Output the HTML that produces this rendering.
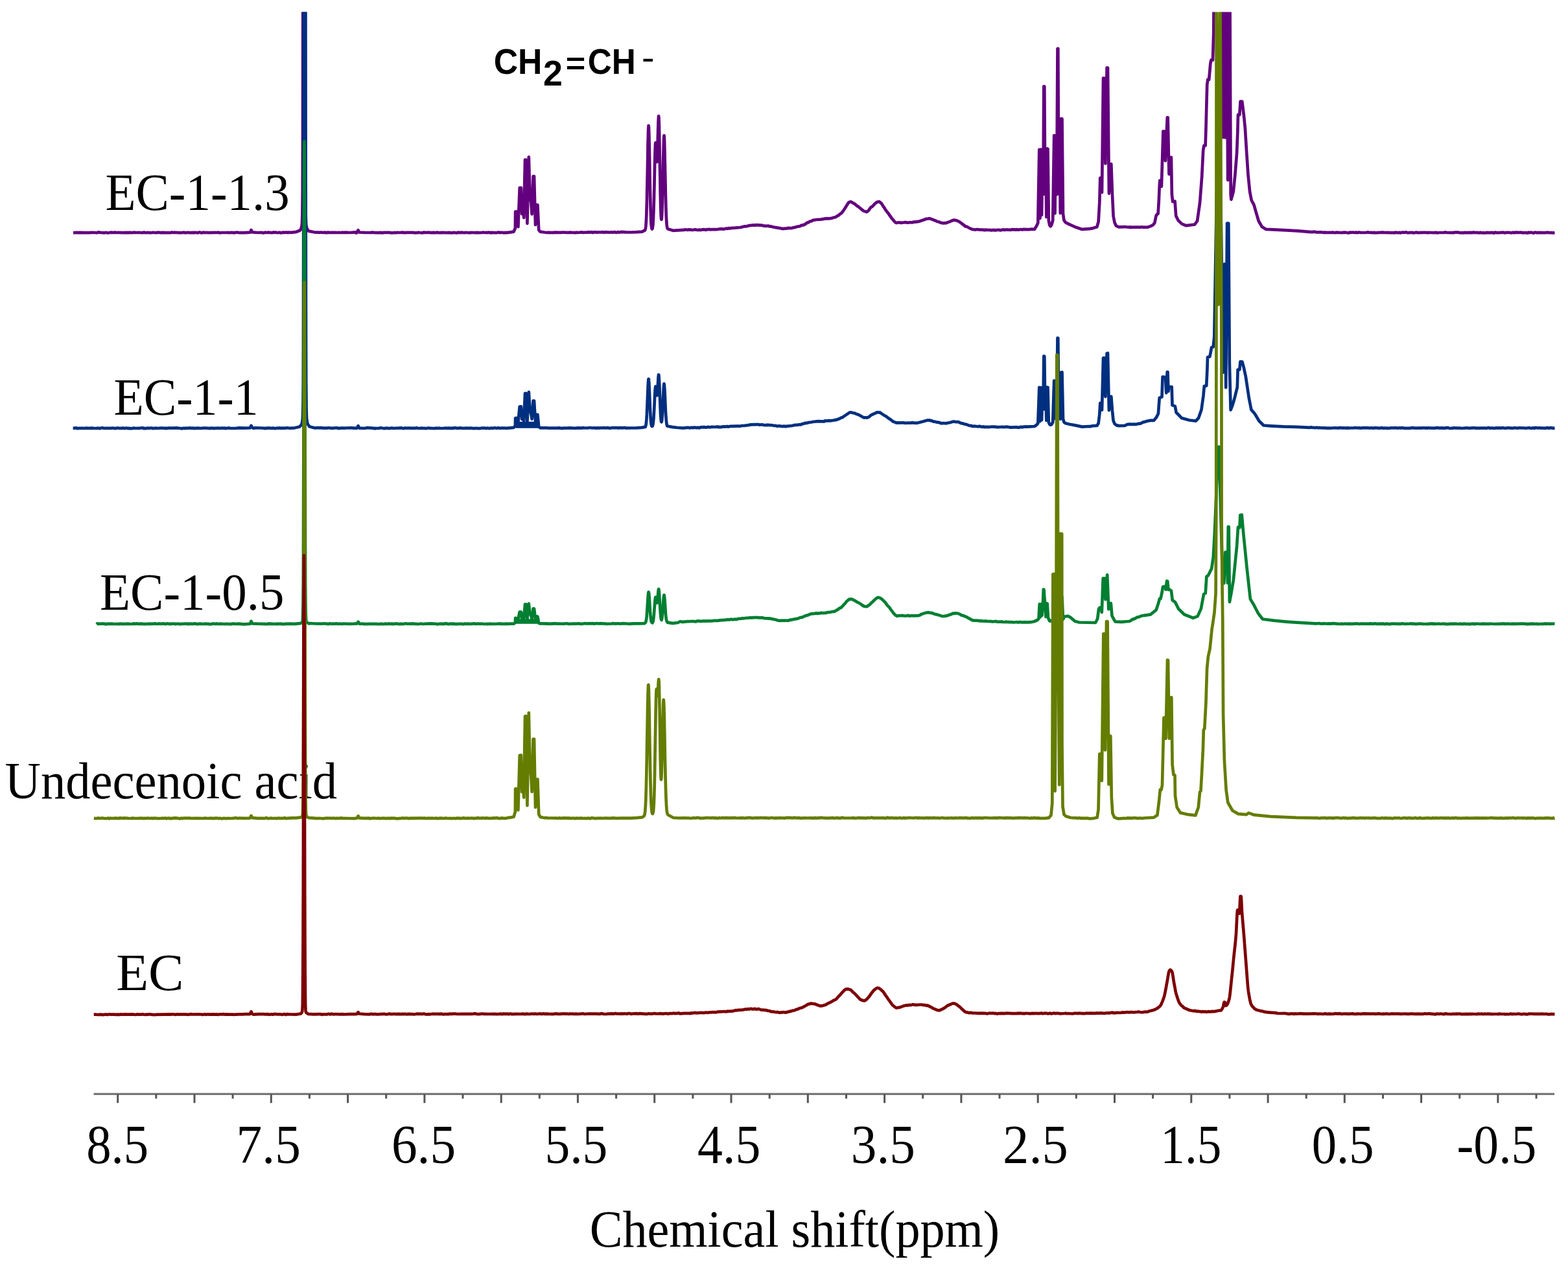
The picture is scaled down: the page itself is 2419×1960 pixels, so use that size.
<!DOCTYPE html><html><head><meta charset="utf-8"><style>html,body{margin:0;padding:0;background:#fff;overflow:hidden}svg{display:block}</style></head><body><svg xmlns="http://www.w3.org/2000/svg" width="2419" height="1960" viewBox="0 0 2419 1960">
<defs><clipPath id="c"><rect x="100" y="18.4" width="2310" height="1660"/></clipPath></defs>
<rect width="100%" height="100%" fill="#fff"/>
<line x1="144.5" y1="1688.4" x2="2398" y2="1688.4" stroke="#777" stroke-width="3.4"/>
<path d="M181.7 1688.4V1702.3 M240.8 1688.4V1695.5 M300.0 1688.4V1702.3 M359.1 1688.4V1695.5 M418.3 1688.4V1702.3 M477.4 1688.4V1695.5 M536.6 1688.4V1702.3 M595.7 1688.4V1695.5 M654.9 1688.4V1702.3 M714.0 1688.4V1695.5 M773.2 1688.4V1702.3 M832.3 1688.4V1695.5 M891.4 1688.4V1702.3 M950.6 1688.4V1695.5 M1009.7 1688.4V1702.3 M1068.9 1688.4V1695.5 M1128.0 1688.4V1702.3 M1187.2 1688.4V1695.5 M1246.3 1688.4V1702.3 M1305.5 1688.4V1695.5 M1364.6 1688.4V1702.3 M1423.7 1688.4V1695.5 M1482.9 1688.4V1702.3 M1542.0 1688.4V1695.5 M1601.2 1688.4V1702.3 M1660.3 1688.4V1695.5 M1719.5 1688.4V1702.3 M1778.6 1688.4V1695.5 M1837.8 1688.4V1702.3 M1896.9 1688.4V1695.5 M1956.1 1688.4V1702.3 M2015.2 1688.4V1695.5 M2074.3 1688.4V1702.3 M2133.5 1688.4V1695.5 M2192.6 1688.4V1702.3 M2251.8 1688.4V1695.5 M2310.9 1688.4V1702.3 M2370.1 1688.4V1695.5" stroke="#555" stroke-width="3" fill="none"/>
<text x="0" y="1795.5" font-family="Liberation Serif" font-size="84" transform="translate(133.16 0) scale(0.9141 1)">8.5</text>
<text x="0" y="1795.5" font-family="Liberation Serif" font-size="84" transform="translate(364.62 0) scale(0.9458 1)">7.5</text>
<text x="0" y="1795.5" font-family="Liberation Serif" font-size="84" transform="translate(603.92 0) scale(0.9449 1)">6.5</text>
<text x="0" y="1795.5" font-family="Liberation Serif" font-size="84" transform="translate(840.38 0) scale(0.9247 1)">5.5</text>
<text x="0" y="1795.5" font-family="Liberation Serif" font-size="84" transform="translate(1076.05 0) scale(0.9260 1)">4.5</text>
<text x="0" y="1795.5" font-family="Liberation Serif" font-size="84" transform="translate(1312.82 0) scale(0.9439 1)">3.5</text>
<text x="0" y="1795.5" font-family="Liberation Serif" font-size="84" transform="translate(1547.06 0) scale(0.9602 1)">2.5</text>
<text x="0" y="1795.5" font-family="Liberation Serif" font-size="84" transform="translate(1790.34 0) scale(0.8947 1)">1.5</text>
<text x="0" y="1795.5" font-family="Liberation Serif" font-size="84" transform="translate(2023.76 0) scale(0.9121 1)">0.5</text>
<text x="0" y="1795.5" font-family="Liberation Serif" font-size="84" transform="translate(2247.53 0) scale(0.9236 1)">-0.5</text>
<text x="0" y="1924" font-family="Liberation Serif" font-size="80" transform="translate(909.64 0) scale(0.9523 1)">Chemical shift(ppm)</text>
<text x="0" y="323.9" font-family="Liberation Serif" font-size="80" transform="translate(162.58 0) scale(0.9614 1)">EC-1-1.3</text>
<text x="0" y="640.2" font-family="Liberation Serif" font-size="80" transform="translate(175.40 0) scale(0.9476 1)">EC-1-1</text>
<text x="0" y="941.0" font-family="Liberation Serif" font-size="80" transform="translate(153.97 0) scale(0.9628 1)">EC-1-0.5</text>
<text x="0" y="1231.6" font-family="Liberation Serif" font-size="80" transform="translate(7.58 0) scale(0.9577 1)">Undecenoic acid</text>
<text x="0" y="1528.3" font-family="Liberation Serif" font-size="80" transform="translate(179.16 0) scale(1.0208 1)">EC</text>
<text x="0" y="0" font-family="Liberation Sans" font-weight="bold" font-size="56" transform="translate(761.65 113.60) scale(0.9240 1.000)">CH</text>
<text x="0" y="0" font-family="Liberation Sans" font-weight="bold" font-size="55" transform="translate(838.05 132.40) scale(0.9770 1.000)">2</text>
<text x="0" y="0" font-family="Liberation Sans" font-weight="bold" font-size="56" transform="translate(872.74 113.60) scale(0.9320 0.820)">=</text>
<text x="0" y="0" font-family="Liberation Sans" font-weight="bold" font-size="56" transform="translate(906.70 113.60) scale(0.9150 1.000)">CH</text>
<text x="0" y="0" font-family="Liberation Sans" font-weight="bold" font-size="56" transform="translate(990.20 101.90) scale(1.0200 0.620)">-</text>
<g clip-path="url(#c)" fill="none" stroke-width="4.7" stroke-linejoin="round" stroke-linecap="butt">
<path stroke="#63007e" d="M113.0 359.1L116.0 359.1 118.0 358.7 119.0 359.1 123.0 358.9 131.0 359.1 136.0 359.0 137.0 359.1 142.0 358.8 147.0 359.0 149.0 359.3 150.0 359.1 151.0 358.6 152.0 358.4 155.0 358.9 159.0 359.1 161.0 359.5 162.0 359.0 163.0 358.8 166.0 359.5 172.0 358.6 174.0 359.0 177.0 358.7 180.0 359.0 182.0 358.8 191.0 359.2 195.0 358.9 196.0 359.1 198.0 358.9 199.0 359.1 201.0 358.7 203.0 359.2 206.0 358.7 211.0 359.0 214.0 358.8 216.0 359.0 220.0 359.2 222.0 358.6 225.0 359.3 228.0 358.8 230.0 359.2 233.0 359.2 236.0 358.7 238.0 359.0 241.0 359.2 244.0 358.6 246.0 358.8 248.0 359.2 251.0 358.9 257.0 359.2 262.0 359.0 263.0 359.2 264.0 359.0 265.0 358.4 267.0 359.0 270.0 358.7 271.0 359.0 273.0 358.8 275.0 359.1 280.0 359.2 284.0 358.6 286.0 359.4 289.0 358.8 294.0 359.2 299.0 358.9 300.0 359.1 302.0 358.8 305.0 359.4 307.0 358.6 308.0 358.4 311.0 359.5 312.0 359.3 313.0 358.7 315.0 358.8 316.0 359.1 318.0 358.8 323.0 359.1 332.0 358.8 334.0 359.0 337.0 358.7 338.0 359.1 339.0 359.3 342.0 359.0 350.0 359.0 351.0 358.8 353.0 359.2 358.0 358.8 361.0 359.4 362.0 359.0 363.0 358.8 364.0 359.0 366.0 358.5 369.0 359.2 377.2 359.2 385.5 358.7 386.2 358.1 386.8 356.9 387.2 355.3 387.5 355.0 387.8 355.3 388.5 357.5 389.0 358.4 397.2 359.0 404.2 358.8 406.0 359.6 409.0 358.7 412.0 359.0 414.0 358.6 416.0 358.9 417.0 358.8 419.0 359.2 420.0 359.2 422.0 358.3 423.0 358.8 424.0 358.8 425.0 358.5 427.0 359.1 430.0 359.0 431.0 358.7 432.0 358.9 433.0 359.4 435.0 359.2 436.0 358.7 438.0 358.9 440.0 358.7 441.0 358.8 442.0 358.6 443.0 358.7 444.0 359.2 446.0 358.5 449.0 358.8 457.2 357.8 462.5 355.8 463.8 354.2 464.5 352.5 465.0 350.8 465.2 349.8 465.5 348.5 465.8 346.7 466.0 343.8 466.2 338.0 466.5 324.7 466.8 294.1 467.0 226.8 467.2 91.9 467.5 -150.5 467.8 -535.9 468.0 -1071.5 468.2 -1710.9 468.5 -2344.2 468.8 -2819.9 469.0 -2998.0 469.2 -2819.9 469.5 -2344.2 469.8 -1710.8 470.0 -1071.5 470.2 -535.9 470.5 -150.6 470.8 91.7 471.0 226.6 471.2 293.8 471.5 324.4 471.8 337.7 472.0 343.5 472.2 346.5 472.5 348.4 472.8 349.7 473.2 351.6 474.0 353.5 476.2 356.6 484.5 358.3 489.0 358.7 491.0 358.5 492.0 358.9 495.0 358.5 497.0 358.8 500.0 358.9 502.0 358.6 503.0 359.1 504.0 359.1 506.0 358.6 507.0 358.7 508.0 359.0 510.0 358.9 518.0 358.8 519.0 359.0 523.0 358.8 526.0 359.0 529.0 358.7 530.0 359.0 531.0 359.0 532.0 358.6 540.2 359.0 548.2 358.3 549.8 359.6 551.0 358.5 551.8 356.9 552.2 355.6 552.5 355.3 552.8 355.6 553.5 357.7 554.0 358.5 562.2 358.9 571.0 359.0 574.0 358.7 576.0 358.9 577.0 358.8 579.0 359.2 585.0 359.1 587.0 358.9 590.0 359.4 592.0 358.9 601.0 358.9 603.0 359.3 608.0 359.1 609.0 358.9 611.0 359.2 613.0 358.8 617.0 359.0 619.0 358.7 620.0 358.9 622.0 358.7 623.0 359.1 624.0 359.2 628.0 358.8 637.0 358.9 641.0 359.3 643.0 359.0 644.0 359.1 646.0 358.7 647.0 359.0 652.0 359.4 654.0 358.5 655.0 358.9 656.0 358.9 657.0 358.7 659.0 359.0 660.0 358.7 665.0 359.1 669.0 358.8 672.0 359.1 674.0 358.7 675.0 358.7 676.0 359.1 680.0 359.1 681.0 358.9 683.0 359.1 684.0 358.8 686.0 359.1 688.0 359.0 690.0 359.2 692.0 358.9 697.0 359.3 699.0 359.1 700.0 358.8 705.0 359.5 706.0 358.9 707.0 358.6 710.0 359.2 711.0 358.8 713.0 358.7 716.0 359.2 718.0 358.9 721.0 359.0 723.0 359.3 724.0 359.0 726.0 359.2 727.0 358.9 731.0 359.0 733.0 359.2 735.0 358.9 739.0 359.1 744.0 358.8 745.0 358.6 747.0 359.0 750.0 358.8 751.0 359.1 753.0 358.7 756.0 358.9 758.0 359.4 759.0 358.8 760.0 358.8 761.0 359.1 766.0 359.2 769.0 358.4 770.0 358.9 771.0 359.1 772.0 358.8 774.0 358.9 775.0 358.8 777.0 359.3 780.0 358.9 782.0 359.1 785.0 358.6 786.0 358.6 792.5 357.6 794.9 352.2 795.1 326.7 797.5 326.6 799.4 350.1 801.7 289.8 803.9 289.9 805.2 330.2 806.9 318.4 808.2 335.9 810.0 246.5 811.5 246.6 813.4 344.8 815.8 242.4 817.4 299.9 819.3 312.2 820.6 330.3 822.5 272.1 824.0 272.0 826.0 347.0 828.2 316.1 829.4 316.3 831.2 355.0 833.5 357.7 840.0 358.5 840.0 358.5 843.0 358.8 844.0 359.0 846.0 358.7 849.0 359.1 851.0 358.8 852.0 359.1 856.0 358.7 865.0 358.9 867.0 358.6 868.0 358.8 870.0 358.5 873.0 358.9 878.0 358.9 880.0 358.6 884.0 359.0 886.0 358.9 887.0 359.2 888.0 359.1 889.0 358.7 892.0 359.0 897.0 358.4 900.0 358.9 905.0 358.5 907.0 358.6 908.0 358.1 910.0 358.6 913.0 358.2 914.0 358.8 915.0 358.9 916.0 358.3 919.0 358.2 921.0 358.8 923.0 358.4 927.0 358.5 929.0 358.1 931.0 358.4 932.0 358.8 934.0 358.1 939.0 358.6 942.0 358.5 943.0 358.2 945.0 358.6 947.0 358.4 948.0 358.0 950.0 358.7 951.0 358.9 953.0 358.1 956.0 358.6 958.0 357.9 966.1 358.4 974.4 358.5 982.5 358.2 990.5 357.6 995.1 355.4 995.9 352.7 996.3 349.2 996.6 345.6 996.9 341.5 997.1 336.3 997.4 329.7 997.5 323.4 997.8 316.2 998.0 305.9 998.2 294.1 998.6 275.7 999.4 233.4 999.5 223.0 999.7 215.9 999.9 209.5 1000.0 204.1 1000.1 201.1 1000.2 198.5 1000.3 196.5 1000.4 195.7 1000.5 194.6 1000.5 194.0 1000.6 193.9 1000.7 194.2 1000.8 195.1 1000.9 195.7 1001.0 197.5 1001.0 199.8 1001.1 201.1 1001.2 205.8 1001.4 209.5 1001.5 215.9 1001.6 220.5 1001.9 233.4 1002.6 275.9 1002.9 289.3 1003.1 301.6 1003.4 312.6 1003.5 320.2 1003.8 326.9 1004.0 333.9 1004.2 339.6 1004.5 344.7 1004.9 348.4 1005.1 350.5 1005.6 352.9 1006.1 353.5 1006.6 352.4 1007.1 349.2 1007.4 346.7 1007.6 343.2 1007.9 338.8 1008.1 333.2 1008.4 326.5 1008.6 318.4 1008.9 309.2 1009.1 298.9 1009.4 287.8 1010.1 253.0 1010.4 242.6 1010.5 235.3 1010.7 230.6 1010.9 226.7 1011.0 223.7 1011.1 222.2 1011.2 220.6 1011.4 220.1 1011.5 220.2 1011.6 220.7 1011.8 222.1 1011.9 223.4 1012.1 227.8 1012.8 243.1 1013.0 246.5 1013.1 247.8 1013.2 249.3 1013.4 249.8 1013.5 249.9 1013.6 249.5 1013.8 248.1 1013.9 246.7 1014.0 243.8 1014.1 241.4 1014.3 235.5 1014.5 226.6 1015.2 198.2 1015.4 194.5 1015.5 189.5 1015.6 186.6 1015.8 183.1 1015.9 181.3 1016.0 180.0 1016.0 179.2 1016.1 179.1 1016.2 179.1 1016.3 179.8 1016.4 180.4 1016.5 181.9 1016.5 184.0 1016.6 185.2 1016.7 188.2 1016.8 191.6 1017.0 197.6 1017.1 204.5 1017.3 215.0 1017.6 232.4 1018.1 263.0 1018.4 277.7 1018.6 291.2 1018.8 301.1 1019.0 309.9 1019.1 313.9 1019.3 320.9 1019.5 326.8 1019.6 329.3 1019.8 333.4 1020.0 336.4 1020.1 337.5 1020.3 338.7 1020.5 338.8 1020.6 338.5 1020.8 337.0 1021.0 334.4 1021.1 332.7 1021.3 328.6 1021.5 323.4 1021.6 320.3 1021.8 313.6 1022.0 303.7 1022.4 290.1 1022.6 277.8 1023.2 244.4 1023.5 235.0 1023.6 228.7 1023.8 223.0 1023.9 219.6 1024.0 215.4 1024.1 213.1 1024.2 211.3 1024.3 210.1 1024.3 209.6 1024.5 209.1 1024.5 209.1 1024.6 209.3 1024.7 210.1 1024.8 211.4 1024.8 212.3 1025.0 215.5 1025.1 218.3 1025.2 223.1 1025.3 226.8 1025.5 235.2 1025.8 249.5 1026.6 287.7 1026.8 299.3 1027.1 309.8 1027.3 319.1 1027.6 326.9 1027.8 333.4 1028.1 338.6 1028.3 342.8 1028.6 346.0 1028.8 348.4 1029.3 351.4 1030.1 353.3 1038.2 355.8 1046.2 355.4 1054.5 354.9 1055.5 355.0 1057.0 354.2 1060.2 354.8 1063.0 354.4 1067.0 354.7 1068.0 355.0 1070.0 354.7 1071.0 354.4 1073.0 354.4 1076.0 355.0 1079.0 354.6 1081.0 355.0 1083.0 354.4 1086.0 354.1 1088.0 354.5 1089.0 354.9 1090.0 354.3 1091.0 354.0 1092.0 354.2 1094.0 353.9 1097.0 354.3 1099.0 354.0 1104.0 354.1 1105.0 354.2 1111.0 353.2 1113.0 353.4 1115.0 353.3 1116.0 353.7 1118.0 353.3 1120.0 352.7 1121.0 352.6 1122.0 352.9 1123.0 352.8 1124.0 352.1 1127.0 352.4 1129.0 351.8 1134.0 351.7 1142.0 351.0 1148.0 349.4 1151.0 349.4 1156.0 348.1 1163.0 347.3 1166.0 347.7 1167.0 347.2 1168.0 347.2 1169.0 347.5 1170.0 347.3 1171.0 347.3 1172.0 347.7 1175.0 347.5 1178.0 348.6 1179.0 348.7 1180.0 348.6 1182.0 348.9 1185.0 348.5 1187.0 349.3 1190.0 349.4 1191.0 350.0 1195.0 350.7 1196.0 351.1 1198.0 351.2 1199.0 351.6 1201.0 351.7 1203.0 352.3 1204.0 352.1 1206.0 352.9 1208.0 352.9 1209.0 353.1 1211.0 352.5 1214.0 352.6 1215.0 352.0 1216.0 351.8 1219.0 352.2 1222.0 351.8 1224.0 351.2 1225.0 351.2 1230.0 349.7 1234.0 349.1 1235.0 348.7 1236.0 347.9 1240.0 347.1 1241.0 346.7 1246.0 343.3 1247.0 343.4 1248.0 342.8 1249.0 341.8 1251.0 341.5 1255.0 339.7 1257.0 339.5 1259.0 339.0 1267.0 338.6 1268.0 338.2 1270.0 338.2 1272.0 337.6 1276.0 337.1 1278.0 337.4 1281.0 337.2 1289.0 335.1 1291.0 333.9 1292.0 333.1 1294.0 332.1 1295.0 331.0 1297.0 329.7 1299.0 327.9 1300.0 326.7 1304.0 320.7 1308.0 314.3 1309.0 313.0 1310.0 312.0 1312.0 311.4 1313.0 311.4 1319.0 315.1 1323.0 318.3 1324.0 318.7 1332.0 325.4 1336.0 326.9 1337.0 327.1 1340.0 324.9 1342.0 321.9 1343.0 320.6 1344.0 319.7 1345.0 319.2 1347.0 317.4 1349.0 315.1 1350.0 314.1 1353.0 311.8 1356.0 311.2 1357.0 311.7 1359.0 313.1 1360.0 314.2 1363.0 319.0 1364.0 320.2 1366.0 323.6 1369.0 327.6 1371.0 330.0 1372.0 331.7 1374.0 334.3 1375.0 336.0 1376.0 337.3 1377.0 338.2 1379.0 340.8 1381.0 342.9 1382.0 343.6 1383.0 344.0 1384.0 343.9 1385.0 343.5 1388.0 343.3 1390.0 343.9 1393.0 343.5 1395.0 343.4 1396.0 343.0 1398.0 343.2 1399.0 343.6 1403.0 343.3 1404.0 343.1 1407.0 343.5 1408.0 343.2 1409.0 342.7 1411.0 342.7 1417.0 341.9 1426.0 339.0 1429.0 337.8 1432.0 337.5 1433.0 337.2 1435.0 337.4 1441.0 339.8 1443.0 340.4 1446.0 342.0 1449.0 342.5 1451.0 343.6 1455.0 344.5 1457.0 344.1 1458.0 344.3 1459.0 344.3 1466.0 341.9 1468.0 340.6 1470.0 340.2 1471.0 339.6 1472.0 339.5 1476.0 340.4 1479.0 341.6 1483.0 344.4 1486.0 346.9 1487.0 347.3 1488.0 348.2 1489.0 349.4 1491.0 349.5 1497.0 352.8 1499.0 353.4 1500.0 354.0 1502.0 354.1 1504.0 354.5 1505.0 354.6 1507.0 354.0 1510.0 354.3 1515.0 354.7 1516.0 354.6 1519.0 355.1 1521.0 354.6 1524.0 355.0 1527.0 354.9 1529.0 355.4 1534.0 354.9 1535.0 355.4 1536.0 355.4 1539.0 354.8 1542.0 354.9 1543.0 355.3 1544.0 355.2 1545.0 354.9 1547.0 354.7 1548.0 354.3 1550.0 354.9 1552.0 354.5 1553.0 354.4 1555.0 354.7 1556.0 354.5 1559.0 354.9 1561.0 354.1 1563.0 354.4 1564.0 354.2 1567.0 354.6 1569.0 354.1 1570.0 354.5 1571.0 354.7 1574.0 354.0 1577.0 354.4 1579.0 353.9 1580.0 354.1 1582.0 353.9 1583.0 354.2 1587.0 354.0 1588.0 354.2 1590.0 353.7 1596.0 353.9 1599.0 348.9 1601.3 343.9 1603.3 230.8 1604.5 336.9 1605.8 230.6 1607.1 331.8 1608.4 230.5 1609.4 299.7 1610.3 133.3 1611.3 133.4 1612.3 300.1 1613.3 230.1 1614.3 335.0 1615.4 229.4 1616.5 229.9 1617.8 340.1 1619.2 347.4 1620.6 349.3 1622.3 347.1 1624.2 340.2 1626.2 209.0 1627.5 329.2 1628.8 209.0 1630.2 300.2 1631.5 75.3 1632.3 75.0 1633.3 299.5 1634.5 183.2 1635.8 329.0 1637.1 183.4 1638.5 183.4 1640.0 330.2 1641.5 340.1 1644.0 343.4 1650.0 346.3 1660.0 350.8 1669.4 353.9 1680.0 353.2 1680.0 353.2 1681.0 353.2 1683.0 352.6 1684.0 352.7 1692.3 350.3 1694.6 342.1 1696.3 312.4 1697.3 274.5 1699.3 274.3 1700.0 297.0 1702.0 120.5 1703.5 120.5 1705.4 252.5 1707.6 104.6 1709.0 104.7 1710.9 298.6 1713.4 253.1 1714.3 253.2 1716.0 300.0 1717.6 333.6 1719.5 343.4 1722.0 348.7 1726.0 350.4 1735.0 350.2 1735.0 350.2 1737.0 350.2 1739.0 350.5 1742.0 350.6 1743.0 350.4 1744.0 350.6 1745.0 351.1 1747.0 350.5 1756.0 350.7 1760.0 350.6 1762.0 350.3 1763.0 350.5 1764.0 350.9 1766.0 350.5 1770.0 350.8 1775.0 349.1 1778.5 347.4 1781.3 344.0 1783.5 333.1 1784.8 331.1 1786.6 329.6 1787.8 309.8 1788.7 287.9 1789.3 278.7 1790.9 278.5 1791.9 287.8 1794.4 202.7 1796.5 202.8 1797.9 248.1 1800.8 181.3 1801.7 181.3 1803.5 268.7 1804.9 242.9 1806.9 242.9 1807.9 300.0 1809.2 311.2 1812.6 310.6 1814.2 333.1 1817.7 340.3 1823.4 345.6 1830.0 348.2 1843.1 346.5 1847.1 340.9 1851.1 312.6 1854.2 272.1 1856.2 231.9 1857.4 224.6 1859.6 224.6 1860.4 200.0 1862.2 131.0 1863.3 122.5 1865.2 122.8 1867.3 98.6 1868.4 92.6 1871.0 92.6 1872.3 49.9 1873.0 -60.1 1879.5 -599.7 1884.5 -60.2 1887.2 212.1 1888.6 -59.6 1890.4 212.3 1892.5 -60.0 1894.2 277.8 1895.6 277.5 1897.2 -60.2 1898.7 300.1 1899.4 307.8 1902.8 295.6 1905.4 269.7 1908.0 237.3 1909.3 204.8 1910.0 177.0 1912.3 177.1 1913.6 156.6 1916.2 156.5 1919.0 178.9 1920.9 198.1 1922.9 230.8 1925.5 269.7 1928.1 295.8 1930.6 308.8 1934.5 316.1 1937.8 327.9 1941.7 341.0 1946.9 350.1 1953.3 353.9 1965.0 354.3 1985.0 355.4 2002.6 356.4 2020.0 357.8 2024.0 358.2 2028.0 357.7 2031.0 358.4 2035.0 358.3 2036.0 358.5 2038.0 358.2 2041.0 358.8 2044.0 358.6 2046.0 358.8 2051.0 358.8 2054.0 358.8 2056.0 358.6 2060.0 359.2 2062.0 358.6 2064.0 358.8 2065.0 358.8 2067.0 359.0 2070.0 359.2 2074.0 358.7 2078.0 359.0 2079.0 359.3 2081.0 359.3 2082.0 358.8 2083.0 358.6 2084.0 358.9 2087.0 358.5 2089.0 359.0 2092.0 358.6 2094.0 359.2 2096.0 358.6 2097.0 358.6 2099.0 359.0 2108.0 358.8 2110.0 358.4 2113.0 359.0 2115.0 358.8 2118.0 359.1 2120.0 358.9 2123.0 359.3 2124.0 359.1 2133.0 358.7 2137.0 359.0 2139.0 358.9 2140.0 359.1 2142.0 358.8 2143.0 359.1 2150.0 359.0 2151.0 359.4 2152.0 359.2 2153.0 358.5 2156.0 359.2 2159.0 358.9 2161.0 359.4 2163.0 358.6 2164.0 358.6 2166.0 359.0 2169.0 358.3 2171.0 359.1 2174.0 359.1 2176.0 358.9 2177.0 359.0 2178.0 358.8 2179.0 358.9 2180.0 359.3 2183.0 359.1 2185.0 358.5 2187.0 359.2 2195.0 358.9 2201.0 358.9 2202.0 359.2 2203.0 359.2 2204.0 358.8 2208.0 359.0 2213.0 359.2 2215.0 358.7 2216.0 358.9 2217.0 359.5 2220.0 359.0 2228.0 358.9 2230.0 358.4 2232.0 359.0 2240.0 359.1 2241.0 358.9 2242.0 359.2 2243.0 359.1 2244.0 358.6 2247.0 358.7 2249.0 358.4 2252.0 359.2 2254.0 359.3 2255.0 359.1 2257.0 359.4 2260.0 358.9 2265.0 359.2 2266.0 358.8 2267.0 358.8 2268.0 359.2 2270.0 358.9 2271.0 359.1 2273.0 358.6 2278.0 359.1 2279.0 358.8 2280.0 359.0 2281.0 359.4 2284.0 358.9 2286.0 359.3 2288.0 359.1 2291.0 359.5 2294.0 358.9 2298.0 359.1 2302.0 358.9 2305.0 359.6 2306.0 358.8 2307.0 358.5 2308.0 359.1 2310.0 359.0 2313.0 359.2 2319.0 358.6 2321.0 359.3 2324.0 358.9 2328.0 358.8 2331.0 359.3 2332.0 359.3 2334.0 358.7 2335.0 359.2 2336.0 359.1 2338.0 358.6 2344.0 358.9 2347.0 358.7 2350.0 359.4 2351.0 359.0 2355.0 359.2 2356.0 359.6 2358.0 358.6 2359.0 359.1 2360.0 359.0 2361.0 358.7 2364.0 359.0 2366.0 359.7 2367.0 359.1 2369.0 358.5 2370.0 359.0 2371.0 359.2 2372.0 358.9 2381.0 359.1 2384.0 359.1 2388.0 358.7 2390.0 359.1 2395.0 359.2 2396.0 359.4 2398.5 359.1"/>
<path fill="#012f7f" stroke="none" d="M795.8 660.8 L795.8 650.8 L831.0 650.8 L831.0 660.8Z"/>
<path stroke="#012f7f" d="M112.6 660.8L115.6 660.7 117.6 660.3 118.6 661.0 119.6 661.2 122.6 660.8 127.6 660.8 128.6 661.0 133.6 660.6 135.6 660.9 138.6 660.9 142.6 660.6 144.6 661.0 149.6 660.9 150.6 660.6 153.6 661.2 154.6 661.1 155.6 660.5 158.6 660.4 160.6 661.0 162.6 660.9 170.6 660.8 171.6 661.0 173.6 660.5 177.6 661.1 178.6 661.1 179.6 660.7 182.6 660.6 184.6 661.0 186.6 660.8 187.6 661.1 189.6 660.4 190.6 660.9 192.6 661.1 193.6 660.7 194.6 660.5 197.6 661.1 199.6 660.9 201.6 661.3 202.6 661.3 206.6 660.6 208.6 661.0 213.6 660.8 215.6 660.8 219.6 660.2 221.6 661.1 222.6 660.9 224.6 661.2 227.6 660.6 229.6 660.9 232.6 660.5 234.6 660.7 235.6 661.2 241.6 660.7 243.6 661.0 247.6 660.7 250.6 660.6 253.6 661.0 254.6 660.7 255.6 660.8 256.6 661.2 258.6 660.7 267.6 660.6 272.6 660.4 277.6 661.0 279.6 661.1 280.6 661.4 283.6 660.7 285.6 661.2 286.6 660.7 287.6 660.7 288.6 661.0 290.6 660.6 291.6 660.8 293.6 660.4 294.6 660.8 295.6 660.9 297.6 660.6 298.6 660.7 299.6 661.1 304.6 660.6 310.6 661.0 312.6 660.6 317.6 660.5 323.6 661.1 325.6 660.6 327.6 660.8 328.6 660.7 329.6 661.1 330.6 661.2 331.6 660.8 333.6 660.9 336.6 660.6 338.6 660.8 341.6 660.8 342.6 660.5 343.6 660.6 344.6 661.0 345.6 660.7 346.6 660.7 347.6 661.1 349.6 660.8 350.6 661.0 351.6 660.8 352.6 660.4 354.6 660.8 363.6 661.0 368.6 660.4 376.8 660.7 385.0 660.4 386.0 660.2 386.6 659.2 387.2 657.2 387.5 656.9 387.8 657.2 388.6 659.5 391.0 660.9 394.2 660.3 402.5 660.5 407.6 660.9 408.6 661.1 411.6 660.7 413.6 660.8 414.6 660.4 415.6 660.5 416.6 660.8 418.6 660.9 421.6 660.6 424.6 661.2 427.6 660.5 429.6 661.0 430.6 660.4 431.6 660.5 432.6 660.8 434.6 660.6 435.6 660.9 437.6 660.5 438.6 660.8 440.6 660.7 442.6 660.2 446.6 660.8 454.8 660.3 461.8 658.8 463.0 657.5 464.6 656.4 465.6 653.8 466.0 652.2 466.2 651.0 466.6 648.7 466.8 647.4 467.0 644.2 467.2 637.7 467.5 623.2 467.6 613.0 467.8 589.8 468.0 516.4 468.2 369.4 468.5 105.2 468.6 -42.6 468.8 -314.8 469.0 -898.6 469.2 -1595.5 469.5 -2285.8 469.6 -2523.4 469.8 -2804.1 470.0 -2998.1 470.2 -2803.9 470.5 -2285.4 470.6 -2020.1 470.8 -1595.0 471.0 -898.1 471.2 -314.3 471.5 105.6 471.6 228.2 471.8 369.8 472.0 516.7 472.2 590.0 472.5 623.4 472.6 630.7 472.8 637.8 473.0 644.2 473.2 647.4 473.5 649.3 473.8 650.7 474.2 652.8 475.0 654.8 477.2 658.2 485.5 660.4 489.2 660.3 490.6 660.0 491.6 660.4 496.6 660.2 498.6 660.7 503.6 660.7 507.6 660.3 510.6 660.8 512.6 660.7 514.6 660.8 515.6 660.5 520.6 660.4 521.6 660.9 522.6 661.1 525.6 660.6 528.6 660.7 530.6 660.5 531.6 660.8 533.6 660.5 541.8 660.4 550.0 660.9 551.0 660.4 551.8 659.0 552.2 657.6 552.6 657.3 553.8 660.1 554.2 660.6 562.5 661.0 565.8 660.2 573.6 660.6 575.6 660.9 576.6 660.9 577.6 661.2 578.6 661.3 579.6 660.8 581.6 661.0 584.6 660.9 587.6 660.3 592.6 661.2 597.6 660.7 598.6 661.0 600.6 661.1 602.6 660.7 605.6 660.6 606.6 661.0 615.6 660.6 619.6 660.4 622.6 661.2 623.6 661.0 624.6 660.4 626.6 660.8 629.6 660.6 631.6 660.7 632.6 660.5 633.6 660.9 634.6 661.0 635.6 660.7 639.6 660.9 642.6 660.4 645.6 661.0 648.6 660.9 650.6 660.6 653.6 661.0 654.6 660.8 656.6 661.3 660.6 660.5 661.6 660.5 662.6 660.9 663.6 661.0 664.6 660.8 666.6 661.0 670.6 661.1 672.6 660.7 675.6 661.0 677.6 660.6 678.6 661.0 682.6 661.0 685.6 660.8 686.6 660.6 688.6 660.8 693.6 660.7 696.6 661.1 697.6 660.7 698.6 660.6 699.6 661.0 701.6 660.3 703.6 660.4 704.6 660.8 707.6 660.9 709.6 660.4 714.6 661.0 715.6 660.8 717.6 660.9 719.6 660.6 723.6 660.9 725.6 660.6 730.6 661.2 734.6 660.8 736.6 661.1 738.6 661.0 739.6 661.2 743.6 660.6 747.6 660.5 749.6 661.1 752.6 660.5 753.6 661.0 754.6 661.1 757.6 660.6 759.6 660.9 763.6 660.3 765.6 660.8 766.6 660.9 768.6 660.2 770.6 660.9 773.6 660.7 779.6 660.7 781.6 661.0 782.6 660.5 783.6 660.5 784.6 660.7 792.5 659.9 794.9 657.5 795.1 645.3 797.5 645.1 799.4 651.3 801.7 627.5 803.9 627.4 805.2 646.8 806.9 641.6 808.2 649.8 810.0 607.1 811.5 607.1 813.4 650.5 815.8 605.0 817.4 632.7 819.3 638.5 820.6 646.7 822.5 618.5 824.0 618.6 826.0 650.6 828.2 639.9 829.4 639.9 831.2 658.5 833.5 660.3 840.0 660.3 840.0 660.3 844.0 660.4 846.0 660.7 849.0 660.5 855.0 660.7 857.0 660.5 860.0 660.7 863.0 660.3 864.0 660.7 865.0 660.9 866.0 660.7 868.0 661.2 869.0 660.7 870.0 660.6 871.0 660.8 873.0 660.5 876.0 660.7 878.0 660.4 887.0 660.8 892.0 660.3 897.0 660.6 900.0 660.2 901.0 660.5 908.0 660.5 909.0 660.0 910.0 660.0 913.0 660.5 917.0 660.3 919.0 660.8 921.0 660.4 924.0 660.6 926.0 660.4 927.0 660.5 932.0 660.2 933.0 660.5 938.0 660.1 940.0 660.8 946.0 660.0 948.0 660.4 950.0 660.2 951.0 660.0 953.0 660.6 956.0 660.1 962.0 660.3 964.0 660.0 965.6 660.7 973.9 660.5 982.0 660.3 990.0 659.9 995.6 658.9 996.4 656.5 996.9 653.1 997.4 647.5 997.6 643.8 997.9 639.4 998.1 634.3 998.6 622.3 999.4 602.6 999.6 596.8 999.9 591.8 1000.1 587.9 1000.3 585.9 1000.5 584.9 1000.7 584.9 1000.9 585.6 1001.0 587.4 1001.3 591.0 1001.6 596.9 1002.1 609.2 1002.9 628.6 1003.1 634.3 1003.4 639.4 1003.6 643.8 1003.9 647.5 1004.1 650.4 1004.6 654.5 1005.1 656.8 1005.9 658.1 1006.6 657.6 1007.4 654.9 1007.9 651.4 1008.4 645.7 1008.9 637.8 1009.4 627.9 1010.1 611.8 1010.4 607.0 1010.6 602.8 1010.9 599.6 1011.1 597.4 1011.4 596.4 1011.6 596.6 1011.9 597.9 1012.9 607.5 1013.1 609.3 1013.4 610.3 1013.6 610.2 1013.9 608.9 1014.1 606.5 1014.4 603.1 1015.4 585.2 1015.6 581.7 1015.9 579.2 1016.0 578.3 1016.2 578.4 1016.4 578.9 1016.5 580.6 1016.8 584.0 1017.1 589.9 1017.4 595.9 1018.4 623.3 1018.6 629.6 1018.9 635.1 1019.1 639.9 1019.4 643.8 1019.6 646.9 1019.9 649.2 1020.1 650.7 1020.4 651.3 1020.6 651.2 1020.9 650.4 1021.1 648.7 1021.4 646.3 1021.6 643.1 1021.9 639.2 1022.1 634.5 1022.6 623.7 1023.4 606.3 1023.6 601.3 1023.9 597.1 1024.1 594.1 1024.3 592.5 1024.5 592.3 1024.8 593.3 1025.0 595.7 1025.3 600.2 1025.6 605.0 1026.8 633.2 1027.3 642.3 1027.6 645.9 1028.1 651.4 1028.6 654.9 1029.3 657.5 1037.5 659.1 1045.5 660.0 1053.8 660.6 1061.0 659.8 1064.0 660.4 1065.0 660.4 1066.0 659.9 1068.0 659.9 1069.0 660.3 1070.0 660.1 1071.0 659.5 1073.0 660.1 1077.0 659.8 1079.0 660.4 1080.0 659.8 1081.0 659.4 1087.0 659.1 1088.0 659.5 1089.0 659.7 1092.0 658.9 1095.0 659.3 1097.0 659.1 1098.0 658.8 1104.0 659.0 1106.0 658.4 1108.0 659.2 1109.0 658.9 1112.0 659.2 1113.0 659.1 1114.0 658.6 1116.0 658.3 1117.0 658.6 1122.0 658.1 1124.0 658.6 1127.0 657.8 1129.0 657.9 1130.0 657.7 1132.0 657.9 1135.0 657.5 1137.0 657.7 1138.0 657.5 1141.0 657.7 1145.0 657.0 1148.0 657.0 1156.0 655.9 1158.0 655.4 1167.0 655.2 1170.0 655.1 1172.0 655.7 1175.0 655.2 1177.0 655.5 1178.0 656.0 1180.0 656.1 1182.0 656.0 1183.0 656.2 1184.0 655.8 1185.0 655.7 1188.0 656.3 1189.0 656.0 1191.0 656.3 1194.0 657.0 1196.0 656.8 1199.0 657.7 1202.0 657.2 1204.0 657.6 1206.0 657.8 1207.0 658.1 1210.0 657.6 1212.0 658.3 1213.0 657.8 1222.0 657.0 1225.0 656.2 1231.0 655.6 1233.0 655.3 1235.0 655.4 1236.0 655.1 1237.0 654.3 1238.0 654.1 1239.0 654.2 1242.0 652.9 1244.0 653.1 1248.0 651.9 1252.0 651.5 1254.0 651.0 1260.0 650.3 1263.0 650.2 1266.0 650.4 1269.0 650.3 1271.0 650.6 1272.0 649.8 1273.0 649.4 1274.0 649.7 1279.0 649.1 1281.0 649.3 1287.0 648.5 1288.0 648.0 1289.0 647.9 1290.0 648.1 1294.0 646.5 1295.0 646.3 1298.0 644.5 1300.0 644.1 1301.0 643.1 1310.0 637.1 1311.0 636.5 1313.0 636.4 1316.0 637.2 1319.0 637.7 1321.0 638.9 1325.0 640.3 1332.0 644.3 1333.0 644.6 1335.0 644.3 1338.0 644.6 1341.0 643.1 1342.0 642.2 1343.0 641.2 1345.0 640.0 1348.0 638.8 1350.0 637.7 1351.0 637.4 1353.0 636.4 1354.0 636.3 1356.0 636.7 1357.0 636.4 1358.0 636.8 1359.0 637.6 1365.0 641.6 1367.0 642.4 1369.0 644.2 1372.0 646.4 1373.0 646.8 1377.0 649.9 1378.0 650.8 1380.0 651.3 1383.0 652.7 1384.0 652.3 1385.0 652.2 1386.0 652.6 1390.0 652.3 1391.0 652.5 1393.0 652.4 1397.0 652.9 1403.0 652.5 1405.0 652.8 1406.0 652.6 1407.0 652.1 1409.0 652.7 1415.0 652.8 1424.0 650.5 1431.0 648.5 1433.0 648.7 1434.0 648.5 1436.0 649.3 1437.0 649.2 1438.0 649.5 1440.0 650.6 1441.0 650.8 1442.0 650.6 1444.0 651.3 1448.0 651.8 1452.0 653.3 1455.0 653.0 1460.0 653.3 1463.0 652.5 1465.0 652.2 1471.0 650.5 1473.0 650.9 1476.0 651.2 1477.0 651.0 1479.0 651.4 1481.0 652.4 1484.0 653.4 1485.0 653.4 1487.0 654.2 1489.0 654.6 1492.0 655.4 1495.0 656.7 1497.0 657.0 1498.0 656.8 1500.0 657.8 1504.0 657.7 1508.0 658.3 1511.0 657.9 1513.0 658.4 1514.0 658.5 1516.0 659.0 1517.0 658.4 1518.0 658.6 1519.0 659.2 1522.0 658.8 1524.0 659.1 1526.0 658.9 1527.0 659.0 1529.0 658.7 1534.0 658.6 1535.0 658.9 1537.0 658.9 1540.0 659.3 1542.0 659.0 1545.0 659.0 1546.0 658.7 1548.0 659.2 1554.0 658.7 1559.0 659.6 1564.0 659.4 1566.0 659.5 1567.0 659.2 1572.0 659.9 1575.0 658.8 1576.0 659.2 1577.0 659.3 1578.0 658.8 1583.0 658.4 1585.0 658.8 1588.0 658.3 1590.0 658.3 1596.0 658.0 1599.0 655.8 1601.3 653.4 1603.3 597.9 1604.5 650.1 1605.8 598.2 1607.1 648.1 1608.4 598.2 1609.4 631.6 1610.3 549.5 1611.3 549.9 1612.3 631.8 1613.3 597.4 1614.3 649.0 1615.4 597.7 1616.5 597.9 1617.8 651.7 1619.2 654.9 1620.6 655.9 1622.3 655.0 1624.2 651.6 1626.2 587.5 1627.5 645.9 1628.8 587.3 1630.2 631.8 1631.5 521.5 1632.3 521.7 1633.3 631.9 1634.5 574.9 1635.8 646.7 1637.1 574.7 1638.5 574.4 1640.0 646.5 1641.5 651.5 1644.0 653.3 1650.0 654.7 1660.0 656.6 1669.4 658.6 1680.0 658.0 1680.0 658.0 1682.0 658.2 1684.0 657.5 1688.0 657.1 1692.3 657.0 1694.6 653.2 1696.3 639.3 1697.3 622.2 1699.3 622.3 1700.0 632.7 1702.0 552.6 1703.5 552.3 1705.4 612.2 1707.6 545.4 1709.0 544.9 1710.9 633.2 1713.4 612.2 1714.3 612.0 1716.0 633.9 1717.6 649.4 1719.5 653.9 1722.0 656.1 1726.0 657.1 1735.0 657.0 1735.0 657.0 1736.0 656.6 1738.0 655.4 1742.0 654.6 1748.0 654.9 1749.0 654.6 1753.0 654.8 1757.0 653.7 1759.0 653.8 1762.0 652.4 1764.0 651.3 1766.0 651.1 1769.0 650.0 1775.0 648.9 1780.0 648.9 1784.0 644.1 1786.9 638.5 1788.7 614.0 1792.5 612.6 1793.6 581.7 1798.1 582.0 1799.2 606.5 1800.7 574.0 1801.5 574.0 1802.4 603.9 1803.2 597.1 1807.7 597.1 1808.5 625.4 1812.8 626.9 1814.6 636.5 1823.2 645.3 1835.0 648.5 1844.8 649.7 1849.0 645.1 1853.5 632.3 1856.5 610.5 1857.8 595.8 1861.2 595.4 1862.4 570.2 1863.0 551.2 1866.4 550.4 1868.5 539.8 1869.0 536.3 1871.6 535.5 1873.3 520.3 1874.5 450.3 1877.0 300.1 1880.0 249.7 1883.0 299.7 1885.5 449.9 1886.6 575.0 1889.1 407.5 1889.8 407.6 1891.2 598.1 1893.1 344.5 1895.3 344.6 1896.8 560.0 1898.6 632.6 1901.5 625.2 1904.5 615.0 1908.8 597.6 1909.6 570.5 1912.3 570.5 1913.5 558.2 1916.4 558.4 1918.5 566.1 1921.7 580.4 1926.9 614.8 1930.4 632.4 1935.6 638.3 1942.5 649.8 1949.4 656.5 1960.0 657.3 1980.0 658.4 2000.0 658.8 2020.0 659.8 2021.0 659.9 2023.0 659.4 2024.0 659.8 2025.0 660.0 2026.0 659.8 2029.0 660.3 2031.0 659.7 2033.0 660.0 2034.0 660.4 2036.0 660.0 2039.0 660.5 2041.0 660.4 2047.0 660.7 2049.0 660.9 2050.0 660.5 2052.0 660.8 2055.0 660.5 2057.0 660.5 2060.0 660.3 2063.0 660.5 2064.0 660.7 2065.0 660.6 2066.0 660.2 2071.0 660.4 2073.0 660.6 2074.0 660.3 2076.0 660.7 2078.0 660.4 2081.0 660.7 2082.0 660.5 2089.0 660.3 2090.0 660.1 2095.0 660.5 2096.0 660.3 2097.0 660.3 2098.0 660.7 2100.0 660.6 2102.0 660.2 2105.0 660.5 2106.0 660.1 2114.0 660.6 2116.0 660.3 2118.0 660.6 2119.0 661.0 2120.0 660.5 2121.0 660.2 2124.0 660.5 2125.0 660.4 2127.0 660.8 2129.0 660.6 2130.0 660.7 2132.0 660.0 2133.0 660.6 2134.0 660.8 2135.0 660.8 2136.0 660.5 2137.0 660.5 2138.0 660.8 2140.0 660.6 2143.0 661.0 2146.0 660.3 2148.0 660.5 2150.0 660.3 2154.0 660.4 2156.0 660.8 2159.0 660.3 2160.0 660.6 2161.0 660.6 2162.0 660.2 2167.0 660.8 2175.0 660.9 2178.0 660.2 2182.0 660.7 2190.0 660.6 2191.0 660.4 2192.0 660.7 2193.0 660.7 2194.0 660.4 2196.0 660.5 2197.0 660.3 2199.0 660.7 2200.0 660.4 2201.0 660.4 2202.0 660.8 2204.0 660.3 2206.0 660.6 2209.0 660.5 2210.0 660.8 2212.0 660.5 2213.0 660.8 2214.0 660.7 2215.0 660.3 2218.0 660.1 2220.0 660.7 2226.0 660.4 2228.0 661.1 2231.0 660.1 2233.0 660.3 2234.0 660.0 2236.0 661.0 2239.0 660.9 2244.0 660.3 2245.0 660.6 2252.0 660.5 2255.0 661.0 2263.0 660.3 2265.0 660.8 2273.0 660.3 2274.0 660.5 2276.0 660.3 2277.0 660.9 2278.0 660.9 2280.0 660.5 2281.0 660.6 2282.0 661.0 2284.0 660.5 2286.0 660.7 2291.0 660.6 2293.0 660.9 2296.0 660.1 2297.0 660.2 2298.0 660.8 2300.0 660.6 2302.0 660.7 2303.0 660.5 2305.0 661.0 2306.0 661.0 2308.0 660.3 2309.0 660.6 2313.0 660.3 2316.0 660.7 2318.0 660.2 2319.0 660.3 2321.0 660.8 2324.0 660.6 2326.0 660.3 2332.0 660.7 2333.0 660.9 2337.0 660.2 2341.0 660.8 2343.0 660.4 2351.0 660.5 2353.0 660.8 2356.0 660.5 2358.0 660.5 2359.0 660.2 2361.0 660.8 2364.0 660.6 2365.0 660.3 2366.0 660.5 2367.0 661.1 2368.0 660.3 2369.0 660.0 2373.0 660.6 2374.0 660.5 2375.0 660.2 2377.0 660.6 2380.0 660.5 2383.0 660.9 2388.0 660.1 2389.0 660.7 2390.0 660.8 2392.0 660.2 2393.0 660.2 2396.0 660.9 2398.5 660.4"/>
<path fill="#007f32" stroke="none" d="M795.8 962.8 L795.8 955.3 L831.0 955.3 L831.0 962.8Z"/>
<path stroke="#007f32" d="M148.7 963.3L149.7 962.6 150.7 962.3 151.7 962.8 156.7 962.7 158.7 962.4 159.7 962.7 161.7 962.7 162.7 963.4 163.7 963.3 164.7 962.9 171.7 962.6 174.7 962.9 177.7 963.0 180.7 962.8 182.7 963.1 185.7 962.7 190.7 963.1 191.7 962.8 193.7 962.8 194.7 963.0 196.7 962.6 200.7 963.0 204.7 963.0 205.7 962.4 206.7 962.3 207.7 962.9 210.7 962.4 213.7 962.9 217.7 962.6 222.7 963.1 225.7 962.9 227.7 963.0 229.7 962.6 233.7 962.9 236.7 962.6 238.7 962.7 239.7 962.3 241.7 963.0 243.7 962.7 244.7 962.4 246.7 962.8 247.7 962.6 249.7 962.9 250.7 962.5 251.7 962.4 255.7 963.1 257.7 962.3 260.7 962.9 262.7 962.8 263.7 963.1 265.7 962.5 266.7 962.8 268.7 962.5 269.7 962.9 270.7 963.1 274.7 962.5 275.7 962.7 276.7 963.2 285.7 962.6 287.7 962.6 289.7 963.1 290.7 962.6 297.7 962.9 300.7 962.4 303.7 963.1 308.7 962.7 313.7 963.0 315.7 962.7 321.7 962.9 322.7 963.3 325.7 963.2 326.7 963.0 327.7 962.4 329.7 962.7 332.7 962.9 333.7 962.5 334.7 962.4 335.7 963.0 337.7 963.0 338.7 962.6 345.7 963.0 346.7 963.2 348.7 962.7 350.7 963.0 351.7 962.9 353.7 963.2 356.7 963.1 358.7 962.6 361.7 962.7 362.7 963.0 367.7 962.7 375.8 963.4 384.0 962.8 385.8 962.6 386.2 962.0 386.8 960.7 387.2 959.1 387.5 958.8 387.8 959.1 388.5 961.4 389.0 962.3 397.2 962.7 405.7 962.8 412.7 963.2 413.7 962.6 414.7 962.4 415.7 962.9 417.7 962.7 423.7 963.0 425.7 962.9 426.7 963.1 428.7 962.7 431.7 962.9 433.7 962.7 434.7 963.1 435.7 963.2 436.7 963.0 438.7 963.2 440.7 962.7 444.7 962.9 446.7 962.7 454.8 962.8 463.0 962.2 465.8 960.8 466.2 960.2 466.5 959.5 466.8 958.2 467.0 955.3 467.2 948.5 467.5 933.7 467.7 911.4 467.8 903.8 468.0 850.1 468.2 764.6 468.5 645.8 468.7 533.3 468.8 504.0 469.0 363.5 469.2 257.9 469.5 218.3 469.7 243.9 469.8 257.8 470.0 363.3 470.2 503.7 470.5 645.5 470.7 743.1 470.8 764.3 471.0 849.8 471.2 903.6 471.5 933.5 471.7 946.3 471.8 948.4 472.0 955.2 472.2 958.1 472.5 959.4 472.8 960.0 476.8 962.4 478.2 962.0 486.5 962.5 494.7 962.7 499.7 962.5 500.7 962.2 502.7 962.7 503.7 962.5 505.7 963.1 506.7 963.1 508.7 962.3 510.7 962.8 513.7 962.6 514.7 962.8 518.7 962.4 522.7 962.8 524.7 962.5 526.7 963.0 527.7 963.0 529.7 962.5 537.8 962.8 546.0 962.7 551.0 962.5 551.5 961.9 552.2 960.0 552.5 959.6 552.8 959.8 553.8 961.9 555.0 962.8 560.0 962.5 561.5 963.2 569.7 962.9 577.7 962.8 585.7 963.1 588.7 962.7 591.7 963.2 593.7 962.7 596.7 962.8 597.7 963.0 598.7 962.9 599.7 962.4 602.7 963.0 604.7 962.6 606.7 963.1 609.7 962.7 611.7 962.7 612.7 962.4 615.7 963.2 617.7 962.7 618.7 963.1 619.7 963.1 620.7 962.8 622.7 963.0 625.7 962.3 628.7 962.8 631.7 962.5 633.7 962.9 636.7 962.4 639.7 963.0 641.7 962.7 644.7 963.2 648.7 962.5 652.7 963.0 657.7 962.7 665.7 962.4 667.7 962.6 670.7 962.7 671.7 962.9 673.7 962.9 674.7 963.3 675.7 963.3 677.7 962.8 678.7 962.7 680.7 962.9 682.7 962.7 684.7 963.1 687.7 962.1 689.7 963.0 690.7 962.7 692.7 963.2 694.7 962.6 695.7 962.5 697.7 963.1 698.7 962.7 699.7 962.6 702.7 963.1 707.7 962.9 708.7 963.0 710.7 962.7 713.7 963.0 714.7 963.3 715.7 963.1 716.7 962.7 718.7 962.7 719.7 962.9 721.7 962.7 726.7 963.0 727.7 962.7 729.7 962.7 730.7 962.3 731.7 962.3 733.7 963.0 734.7 963.0 735.7 962.7 738.7 962.5 740.7 962.9 743.7 962.5 745.7 963.0 748.7 963.0 750.7 962.8 751.7 963.2 757.7 962.7 759.7 963.0 761.7 962.8 763.7 963.0 769.7 962.7 770.7 962.4 771.7 962.5 772.7 962.9 777.7 962.9 782.7 962.7 783.7 963.0 786.0 962.7 792.5 962.7 794.9 960.8 795.1 953.9 797.5 954.4 799.4 955.6 801.7 944.3 803.9 944.3 805.2 955.1 806.9 951.9 808.2 955.2 810.0 932.7 811.5 932.6 813.4 955.4 815.8 931.5 817.4 947.1 819.3 950.1 820.6 955.1 822.5 939.4 824.0 939.4 826.0 955.2 828.2 951.4 829.4 951.5 831.2 961.7 833.5 962.4 840.0 962.4 840.0 962.4 842.0 962.6 843.0 962.4 848.0 962.8 849.0 962.5 850.0 962.5 851.0 962.8 853.0 962.3 854.0 962.7 856.0 962.2 858.0 962.4 859.0 962.7 864.0 962.5 870.0 962.8 872.0 962.4 875.0 962.4 877.0 962.8 880.0 962.8 883.0 962.5 885.0 962.7 886.0 962.5 889.0 962.7 891.0 962.3 895.0 962.6 897.0 963.0 898.0 962.9 899.0 962.5 901.0 962.3 902.0 962.0 904.0 962.5 907.0 962.2 909.0 962.5 910.0 962.1 913.0 962.4 915.0 962.1 917.0 962.6 918.0 962.6 920.0 962.0 922.0 962.2 923.0 962.5 926.0 962.1 935.0 962.6 936.0 962.8 944.0 962.5 945.0 962.2 946.0 962.2 947.0 962.5 949.0 962.4 950.0 962.6 952.0 962.3 955.0 962.4 957.0 962.7 960.0 962.2 968.1 962.5 969.6 962.9 977.8 962.3 985.9 962.3 994.0 962.2 995.9 960.9 996.6 958.7 997.1 955.9 997.6 951.7 998.1 945.7 999.6 921.5 999.9 918.3 1000.1 915.8 1000.4 914.2 1000.6 913.7 1000.9 914.2 1001.1 915.8 1001.4 918.4 1001.9 925.5 1002.9 942.1 1003.4 948.9 1003.9 954.0 1004.4 957.3 1005.1 960.1 1006.4 961.3 1007.4 959.5 1007.9 957.2 1008.4 953.4 1008.9 948.2 1010.4 928.2 1010.9 923.5 1011.1 922.2 1011.4 921.6 1011.6 921.7 1012.1 923.8 1013.1 929.8 1013.4 930.4 1013.6 930.4 1013.9 929.5 1014.1 928.0 1014.4 925.8 1015.4 913.8 1015.6 911.4 1015.9 909.7 1016.1 909.1 1016.4 909.6 1016.6 911.2 1016.9 913.7 1017.1 917.1 1018.6 942.7 1019.1 949.2 1019.6 953.9 1020.1 956.4 1020.6 956.9 1021.1 955.2 1021.6 951.4 1022.1 945.8 1023.6 924.1 1023.9 921.4 1024.1 919.5 1024.3 918.4 1024.6 918.3 1024.8 919.1 1025.1 920.9 1025.3 923.5 1025.8 930.2 1026.8 945.1 1027.3 951.0 1027.8 955.1 1028.3 957.8 1029.6 960.6 1037.7 961.9 1045.8 961.0 1049.5 959.0 1052.8 959.9 1060.2 959.2 1066.0 959.0 1067.0 958.8 1069.0 959.0 1070.0 958.8 1073.0 959.4 1074.0 959.2 1075.0 958.6 1077.0 958.3 1083.0 958.8 1085.0 958.3 1088.0 958.7 1089.0 958.3 1090.0 958.3 1091.0 958.6 1093.0 958.3 1099.0 958.3 1101.0 957.8 1107.0 957.9 1112.0 957.1 1115.0 957.2 1117.0 956.8 1118.0 957.0 1123.0 956.1 1126.0 956.3 1128.0 955.6 1130.0 956.2 1131.0 956.1 1133.0 955.7 1136.0 955.9 1139.0 954.9 1144.0 954.6 1145.0 954.1 1146.0 954.1 1147.0 954.5 1149.0 954.0 1154.0 953.7 1157.0 953.2 1160.0 953.4 1161.0 953.1 1162.0 953.0 1163.0 953.3 1166.0 952.8 1168.0 953.3 1169.0 953.0 1170.0 953.0 1171.0 953.3 1173.0 953.2 1174.0 953.4 1176.0 953.2 1178.0 953.7 1179.0 954.1 1184.0 954.3 1186.0 954.6 1187.0 954.4 1196.0 956.3 1198.0 956.7 1200.0 957.5 1203.0 957.9 1208.0 957.6 1209.0 957.8 1210.0 957.8 1211.0 957.5 1216.0 957.8 1219.0 956.7 1221.0 956.6 1222.0 956.1 1224.0 956.0 1226.0 955.3 1229.0 955.1 1230.0 954.6 1232.0 954.3 1234.0 953.2 1235.0 952.9 1237.0 952.8 1238.0 952.6 1240.0 951.4 1242.0 950.7 1243.0 950.1 1246.0 949.5 1251.0 947.4 1257.0 946.9 1259.0 946.4 1261.0 946.9 1263.0 946.4 1265.0 946.5 1266.0 946.2 1267.0 945.7 1269.0 946.1 1274.0 945.9 1277.0 944.9 1280.0 945.0 1285.0 943.8 1286.0 943.9 1288.0 943.4 1290.0 942.2 1291.0 941.4 1292.0 941.2 1293.0 940.7 1294.0 939.3 1295.0 938.7 1297.0 938.0 1298.0 937.3 1301.0 934.2 1302.0 932.9 1304.0 931.0 1305.0 929.4 1306.0 928.2 1310.0 924.9 1311.0 924.7 1312.0 924.9 1313.0 924.6 1314.0 924.7 1318.0 926.6 1322.0 929.1 1325.0 930.4 1328.0 932.4 1330.0 933.9 1333.0 935.6 1335.0 936.0 1337.0 936.1 1338.0 935.7 1339.0 934.8 1342.0 932.9 1344.0 930.5 1346.0 929.1 1347.0 927.9 1349.0 926.1 1350.0 925.0 1353.0 922.7 1354.0 922.3 1355.0 922.1 1358.0 922.9 1361.0 925.1 1366.0 930.1 1369.0 934.3 1372.0 937.3 1373.0 938.7 1374.0 940.4 1378.0 945.7 1380.0 948.0 1382.0 949.7 1383.0 950.4 1384.0 950.8 1387.0 950.1 1390.0 950.2 1392.0 949.9 1395.0 950.5 1398.0 950.4 1401.0 949.9 1402.0 950.1 1403.0 950.6 1405.0 950.5 1406.0 950.0 1408.0 950.3 1416.0 950.2 1419.0 949.5 1422.0 947.6 1424.0 947.2 1426.0 946.3 1432.0 945.1 1435.0 945.8 1437.0 945.8 1443.0 948.1 1445.0 948.2 1446.0 948.8 1448.0 949.1 1453.0 950.9 1456.0 951.0 1458.0 950.6 1459.0 950.7 1461.0 950.3 1462.0 949.7 1464.0 949.2 1466.0 948.4 1467.0 948.3 1470.0 946.6 1472.0 946.9 1474.0 946.4 1475.0 946.3 1478.0 946.8 1480.0 947.7 1481.0 948.0 1482.0 948.5 1483.0 949.3 1485.0 949.9 1486.0 950.0 1490.0 951.8 1491.0 952.0 1494.0 953.9 1500.0 957.1 1502.0 957.6 1504.0 957.5 1506.0 957.8 1507.0 957.6 1509.0 958.0 1510.0 957.9 1512.0 958.4 1514.0 958.1 1518.0 958.7 1520.0 958.4 1525.0 959.0 1527.0 958.9 1530.0 959.2 1531.0 959.5 1536.0 958.8 1539.0 959.7 1541.0 959.6 1543.0 959.7 1545.0 959.4 1547.0 959.9 1550.0 960.0 1552.0 959.6 1554.0 960.0 1555.0 959.9 1557.0 960.2 1561.0 960.0 1563.0 960.5 1569.0 960.0 1571.0 960.6 1573.0 959.9 1577.0 960.5 1579.0 960.2 1584.0 960.3 1586.0 960.2 1587.0 960.4 1589.0 960.1 1590.0 960.3 1595.0 959.2 1600.0 957.3 1602.5 954.9 1603.7 932.4 1605.0 952.3 1606.3 932.4 1607.6 949.8 1608.9 932.3 1609.8 909.7 1610.5 909.8 1611.5 925.1 1612.3 931.0 1613.5 952.0 1614.6 931.3 1615.7 931.6 1617.0 953.3 1619.0 958.0 1620.3 958.7 1622.0 957.6 1624.2 957.9 1626.2 926.9 1627.5 955.5 1628.8 927.1 1630.2 949.3 1631.5 896.0 1632.3 895.8 1633.3 948.7 1634.5 921.1 1635.8 955.6 1637.1 921.4 1638.5 921.2 1640.0 955.8 1641.9 951.8 1647.0 950.7 1652.0 953.2 1658.3 958.8 1665.0 960.5 1690.0 961.0 1693.2 955.0 1695.0 940.1 1696.3 937.9 1698.9 937.4 1699.8 945.0 1701.7 892.7 1704.3 892.6 1705.5 925.1 1708.2 887.0 1710.3 940.2 1713.8 931.0 1715.5 950.4 1717.9 954.9 1720.4 959.4 1730.0 959.9 1740.0 959.0 1740.0 959.0 1742.0 958.9 1744.0 958.1 1746.0 956.7 1747.0 955.7 1750.0 955.1 1755.0 952.3 1757.0 952.3 1760.0 950.7 1765.0 949.8 1775.0 948.4 1783.6 941.4 1787.5 929.8 1788.8 924.2 1790.5 924.1 1792.5 915.0 1794.0 905.5 1797.0 905.0 1798.5 909.9 1800.1 896.7 1801.2 897.0 1802.5 910.1 1804.0 909.5 1807.0 911.8 1808.7 926.2 1813.0 929.4 1818.2 939.8 1826.9 948.3 1840.7 953.7 1847.6 951.1 1852.8 939.6 1857.1 916.9 1859.7 915.7 1861.4 889.9 1864.0 888.0 1869.2 877.4 1871.8 859.7 1874.0 820.0 1876.5 759.8 1878.6 700.1 1879.4 689.6 1880.6 689.6 1881.5 720.0 1883.5 800.3 1885.8 880.2 1888.3 900.1 1890.3 852.1 1893.0 851.9 1893.9 899.8 1894.8 812.9 1895.7 813.1 1896.9 929.0 1899.5 915.1 1902.9 894.8 1908.1 842.7 1910.0 813.7 1912.5 814.2 1913.3 795.0 1915.7 794.5 1918.5 825.6 1923.7 877.6 1928.9 924.5 1934.1 933.1 1941.0 946.5 1947.9 955.5 1965.0 957.7 1985.0 959.6 2000.0 960.7 2030.0 962.3 2035.0 962.2 2037.0 962.4 2040.0 962.6 2042.0 962.2 2045.0 962.5 2048.0 962.7 2051.0 962.4 2053.0 962.6 2056.0 962.2 2065.0 962.8 2067.0 963.0 2070.0 962.6 2072.0 963.0 2075.0 962.5 2078.0 962.9 2080.0 962.7 2085.0 962.8 2090.0 962.6 2091.0 962.8 2093.0 962.3 2096.0 963.0 2099.0 962.7 2101.0 962.7 2104.0 962.5 2109.0 962.8 2110.0 962.5 2112.0 962.9 2113.0 962.5 2114.0 962.4 2118.0 962.9 2121.0 962.3 2122.0 962.4 2123.0 962.8 2130.0 962.6 2133.0 962.8 2134.0 962.4 2136.0 963.2 2138.0 962.7 2142.0 962.8 2144.0 963.3 2147.0 962.6 2152.0 962.7 2154.0 962.8 2155.0 962.6 2157.0 963.0 2159.0 962.7 2161.0 962.9 2162.0 962.7 2163.0 962.3 2166.0 962.8 2175.0 962.6 2177.0 962.3 2178.0 962.5 2179.0 963.0 2181.0 962.5 2184.0 963.1 2189.0 962.6 2192.0 962.5 2194.0 962.9 2200.0 963.0 2203.0 963.1 2205.0 962.5 2206.0 962.9 2209.0 962.4 2211.0 962.9 2213.0 962.6 2216.0 963.0 2219.0 962.5 2222.0 963.0 2224.0 962.9 2226.0 962.5 2229.0 962.8 2230.0 963.2 2235.0 963.1 2237.0 962.7 2240.0 962.9 2242.0 962.6 2245.0 962.8 2246.0 962.6 2248.0 963.0 2251.0 963.0 2253.0 962.6 2256.0 963.1 2259.0 962.6 2262.0 963.1 2264.0 962.8 2266.0 963.1 2267.0 963.4 2269.0 962.8 2273.0 962.6 2275.0 963.1 2278.0 962.5 2283.0 963.0 2285.0 962.7 2286.0 962.9 2288.0 962.7 2293.0 962.9 2298.0 962.8 2299.0 962.5 2304.0 963.0 2313.0 962.8 2315.0 962.9 2317.0 962.6 2318.0 962.7 2320.0 962.3 2321.0 962.8 2322.0 962.9 2323.0 962.7 2325.0 962.8 2326.0 962.6 2331.0 963.0 2333.0 962.6 2334.0 962.9 2338.0 962.7 2339.0 962.9 2344.0 962.6 2352.0 962.7 2355.0 963.1 2357.0 962.9 2358.0 963.1 2361.0 962.6 2363.0 962.9 2365.0 962.6 2368.0 963.0 2370.0 962.7 2371.0 962.8 2373.0 963.3 2374.0 963.0 2382.0 962.9 2384.0 962.3 2385.0 962.9 2386.0 963.0 2387.0 962.6 2389.0 962.6 2391.0 962.9 2394.0 962.6 2395.0 962.8 2397.0 962.5 2398.5 962.6"/>
<path stroke="#647d00" d="M144.9 1262.6L147.9 1263.2 149.9 1262.9 150.9 1262.5 151.9 1262.5 152.9 1262.8 155.9 1262.8 157.9 1262.5 159.9 1262.9 162.9 1263.1 165.9 1262.9 166.9 1262.6 167.9 1262.8 168.9 1263.4 169.9 1262.7 170.9 1262.5 171.9 1263.0 178.9 1262.7 181.9 1262.8 182.9 1263.1 183.9 1262.9 184.9 1262.3 186.9 1262.7 187.9 1262.6 189.9 1262.9 190.9 1262.5 191.9 1262.4 193.9 1262.8 195.9 1262.5 197.9 1263.0 202.9 1262.9 203.9 1262.6 209.9 1263.0 218.9 1262.7 219.9 1262.8 221.9 1263.2 222.9 1262.8 226.9 1262.8 227.9 1262.6 232.9 1263.0 233.9 1262.7 234.9 1262.6 235.9 1263.1 237.9 1262.7 243.9 1263.1 248.9 1262.9 250.9 1262.7 251.9 1263.0 254.9 1262.5 256.9 1263.3 259.9 1262.5 261.9 1263.2 262.9 1262.9 264.9 1263.1 266.9 1262.6 267.9 1262.7 270.9 1262.3 277.9 1263.3 278.9 1262.8 279.9 1262.7 280.9 1263.1 282.9 1262.7 287.9 1262.5 293.9 1262.7 294.9 1263.0 298.9 1262.9 306.9 1262.8 312.9 1263.0 314.9 1262.7 315.9 1262.9 317.9 1262.5 318.9 1263.0 319.9 1263.0 326.9 1262.7 328.9 1263.1 331.9 1262.6 333.9 1262.8 334.9 1262.5 335.9 1262.7 336.9 1263.2 338.9 1262.8 339.9 1262.8 341.9 1263.4 343.9 1263.1 344.9 1262.8 349.9 1263.2 351.9 1262.8 354.9 1263.0 358.9 1263.0 360.9 1262.5 362.9 1262.5 363.9 1262.2 366.9 1263.0 367.9 1262.9 368.9 1262.5 377.0 1262.8 385.2 1262.7 386.0 1262.1 387.2 1259.1 387.5 1258.9 387.8 1259.2 388.5 1261.4 389.0 1262.2 397.2 1262.8 405.9 1262.8 406.9 1263.1 408.9 1262.8 409.9 1262.3 410.9 1262.2 413.9 1263.2 417.9 1262.6 418.9 1262.7 419.9 1263.0 424.9 1262.9 426.9 1263.1 429.9 1262.5 430.9 1262.8 436.9 1262.9 437.9 1262.7 438.9 1262.2 439.9 1262.4 440.9 1263.1 445.9 1262.7 447.9 1262.6 448.9 1262.4 457.0 1262.4 464.5 1261.3 466.0 1260.3 466.2 1259.9 466.5 1259.2 466.8 1257.8 466.9 1256.2 467.0 1254.6 467.2 1247.1 467.5 1230.5 467.8 1197.4 467.9 1165.4 468.0 1137.7 468.2 1042.8 468.5 910.7 468.8 753.2 468.9 657.0 469.0 597.0 469.2 479.8 469.5 435.8 469.8 479.6 469.9 543.1 470.0 596.8 470.2 752.9 470.5 910.5 470.8 1042.5 470.9 1104.0 471.0 1137.5 471.2 1197.3 471.5 1230.4 471.8 1246.8 471.9 1252.0 472.0 1254.2 472.2 1257.4 472.5 1258.7 474.0 1261.0 476.2 1262.1 484.5 1262.6 488.9 1263.1 490.9 1262.8 495.9 1263.0 497.9 1263.3 503.9 1262.5 512.9 1262.9 514.9 1262.5 517.9 1263.1 520.9 1262.7 522.9 1263.0 523.9 1262.7 525.9 1262.7 526.9 1262.4 527.9 1262.6 528.9 1263.0 530.9 1262.9 539.0 1263.0 547.2 1263.1 551.0 1262.5 551.2 1262.3 552.2 1259.6 552.5 1259.3 552.8 1259.5 553.5 1261.5 554.0 1262.3 562.2 1262.9 569.0 1262.6 570.2 1263.3 570.9 1263.3 571.9 1262.9 573.9 1263.0 575.9 1262.5 581.9 1263.0 582.9 1262.7 585.9 1263.1 586.9 1263.0 587.9 1262.7 589.9 1263.0 590.9 1262.7 595.9 1263.2 597.9 1262.7 600.9 1263.1 602.9 1262.6 603.9 1262.8 606.9 1262.6 610.9 1263.1 611.9 1263.4 618.9 1262.8 619.9 1262.8 621.9 1262.4 622.9 1263.0 623.9 1263.0 624.9 1262.6 627.9 1262.7 630.9 1263.1 632.9 1262.7 635.9 1262.8 637.9 1262.6 640.9 1262.8 641.9 1262.6 642.9 1262.6 643.9 1263.0 645.9 1262.5 646.9 1262.7 651.9 1262.6 653.9 1262.9 654.9 1262.6 656.9 1262.8 657.9 1263.0 658.9 1263.0 659.9 1262.7 663.9 1262.9 664.9 1262.7 666.9 1262.8 667.9 1262.7 669.9 1263.0 672.9 1262.6 673.9 1262.9 674.9 1263.1 679.9 1262.6 685.9 1263.0 686.9 1262.6 688.9 1262.7 690.9 1263.0 693.9 1262.9 695.9 1263.1 699.9 1262.8 701.9 1263.2 704.9 1262.6 706.9 1262.8 707.9 1262.6 709.9 1263.1 715.9 1262.4 717.9 1263.0 720.9 1262.7 722.9 1262.9 728.9 1262.5 729.9 1263.0 730.9 1263.2 731.9 1262.8 733.9 1262.7 734.9 1262.9 735.9 1262.6 736.9 1262.0 738.9 1262.8 741.9 1262.6 742.9 1262.8 743.9 1262.7 744.9 1262.3 747.9 1263.0 749.9 1262.3 753.9 1262.8 758.9 1262.8 760.9 1262.4 762.9 1262.7 766.9 1262.2 768.9 1263.0 770.9 1262.9 771.9 1263.2 773.9 1262.4 776.9 1262.8 780.9 1262.8 784.9 1261.7 786.0 1261.9 792.5 1260.8 794.9 1252.9 795.1 1217.3 797.5 1217.5 799.4 1250.2 801.7 1165.9 803.9 1165.5 805.2 1222.2 806.9 1205.7 808.2 1230.6 810.0 1105.3 811.5 1105.2 813.4 1243.2 815.8 1100.1 817.4 1180.1 819.3 1197.0 820.6 1222.0 822.5 1140.6 824.0 1140.5 826.0 1245.9 828.2 1202.8 829.4 1202.6 831.2 1256.6 833.5 1260.9 840.0 1262.2 840.0 1262.2 841.0 1262.3 842.0 1262.0 843.0 1262.0 844.0 1262.3 853.0 1262.5 857.0 1262.7 859.0 1262.5 861.0 1262.8 862.0 1262.7 863.0 1262.3 865.0 1262.8 870.0 1262.4 875.0 1262.7 876.0 1262.4 878.0 1262.9 879.0 1262.6 882.0 1263.0 884.0 1262.5 887.0 1263.2 889.0 1262.6 891.0 1262.8 897.0 1262.6 900.0 1263.0 902.0 1262.8 904.0 1263.1 908.0 1262.6 910.0 1263.2 911.0 1263.1 913.0 1262.2 919.0 1263.1 921.0 1262.7 924.0 1262.9 926.0 1262.5 927.0 1262.8 932.0 1262.7 935.0 1262.5 942.0 1262.9 945.0 1262.4 952.0 1262.9 958.0 1262.7 966.0 1262.6 974.3 1262.7 982.5 1262.2 990.5 1261.4 993.5 1259.5 994.3 1257.8 994.8 1255.5 995.0 1253.7 995.3 1251.5 995.5 1248.5 995.8 1244.8 996.0 1240.0 996.3 1234.3 996.5 1227.2 996.8 1218.8 997.0 1209.0 997.3 1197.8 997.5 1185.2 997.8 1171.4 998.0 1156.6 998.8 1110.2 999.0 1095.8 999.2 1085.3 999.3 1082.8 999.5 1076.0 999.5 1072.0 999.7 1066.7 999.8 1063.7 1000.0 1060.2 1000.0 1058.6 1000.2 1057.1 1000.3 1056.8 1000.5 1057.4 1000.5 1058.5 1000.7 1061.2 1000.8 1063.6 1001.0 1068.1 1001.0 1071.7 1001.2 1077.9 1001.3 1082.5 1001.5 1092.7 1001.8 1109.7 1002.5 1155.8 1002.8 1170.5 1003.0 1184.2 1003.3 1196.8 1003.5 1208.0 1003.8 1217.7 1004.0 1226.0 1004.3 1233.1 1004.5 1238.9 1004.8 1243.6 1005.0 1247.3 1005.3 1250.2 1005.5 1252.4 1005.8 1253.9 1006.3 1255.6 1006.8 1255.9 1007.3 1255.1 1007.5 1254.3 1007.8 1253.0 1008.0 1251.2 1008.3 1248.6 1008.5 1245.1 1008.8 1240.5 1009.0 1235.8 1009.2 1230.2 1009.3 1227.0 1009.5 1219.9 1009.7 1211.7 1009.8 1207.2 1010.0 1197.3 1010.2 1183.7 1010.5 1165.6 1011.3 1117.7 1011.5 1102.8 1011.7 1094.7 1011.8 1089.7 1012.0 1082.9 1012.0 1078.9 1012.2 1073.7 1012.3 1070.8 1012.5 1067.4 1012.5 1065.7 1012.7 1064.1 1012.8 1063.5 1013.0 1063.3 1013.0 1063.6 1013.3 1065.5 1013.8 1071.0 1014.0 1073.1 1014.2 1073.9 1014.5 1073.6 1014.5 1073.1 1014.8 1071.2 1015.0 1066.6 1015.3 1061.7 1015.5 1056.5 1015.8 1051.9 1016.0 1049.9 1016.0 1049.0 1016.2 1048.3 1016.3 1048.5 1016.5 1049.6 1016.5 1051.0 1016.7 1054.1 1016.8 1056.9 1017.0 1062.1 1017.0 1066.3 1017.2 1073.4 1017.3 1078.6 1017.5 1090.2 1017.8 1109.3 1018.3 1142.5 1018.5 1155.0 1018.7 1166.4 1018.8 1171.6 1019.0 1178.9 1019.0 1183.3 1019.2 1189.0 1019.3 1192.4 1019.5 1196.6 1019.5 1198.8 1019.7 1201.3 1019.8 1202.3 1020.0 1203.1 1020.0 1203.1 1020.2 1202.3 1020.3 1201.2 1020.5 1198.8 1020.5 1196.7 1020.7 1192.9 1020.8 1189.9 1021.0 1183.0 1021.2 1174.9 1021.3 1170.6 1021.5 1158.7 1022.3 1120.5 1022.5 1108.7 1022.8 1100.2 1022.8 1098.3 1023.0 1092.9 1023.0 1089.8 1023.2 1085.9 1023.3 1083.8 1023.5 1081.4 1023.5 1080.5 1023.7 1079.9 1023.8 1080.2 1024.0 1081.4 1024.0 1082.9 1024.2 1085.9 1024.3 1088.5 1024.5 1093.1 1024.5 1096.6 1024.8 1104.7 1025.0 1113.9 1025.0 1118.8 1025.3 1131.9 1026.0 1172.6 1026.3 1185.3 1026.5 1197.0 1026.8 1207.6 1027.0 1217.0 1027.3 1225.1 1027.5 1232.0 1027.8 1237.8 1028.0 1242.5 1028.3 1246.2 1028.5 1249.2 1028.8 1251.5 1029.0 1253.2 1029.5 1255.5 1030.5 1257.5 1038.7 1262.0 1046.8 1262.5 1055.0 1262.3 1063.0 1262.5 1065.0 1262.8 1068.0 1262.5 1070.0 1262.1 1071.0 1262.5 1074.0 1262.4 1076.0 1261.8 1081.0 1262.9 1083.0 1262.5 1087.0 1262.6 1089.0 1262.0 1097.0 1262.3 1099.0 1262.1 1100.0 1262.3 1102.0 1262.2 1103.0 1262.7 1105.0 1262.2 1106.0 1262.7 1107.0 1262.9 1108.0 1262.7 1110.0 1262.1 1111.0 1262.5 1113.0 1262.4 1114.0 1262.1 1115.0 1262.1 1116.0 1262.4 1121.0 1262.1 1124.0 1262.4 1131.0 1262.2 1132.0 1262.4 1133.0 1262.0 1134.0 1261.9 1135.0 1262.5 1140.0 1262.5 1142.0 1262.2 1143.0 1262.7 1144.0 1262.5 1145.0 1262.1 1147.0 1262.4 1150.0 1262.6 1153.0 1262.0 1154.0 1262.3 1155.0 1262.2 1156.0 1261.8 1158.0 1262.3 1159.0 1262.2 1161.0 1262.7 1163.0 1262.3 1169.0 1262.2 1170.0 1262.4 1171.0 1262.3 1172.0 1262.0 1174.0 1262.2 1175.0 1262.0 1178.0 1262.4 1180.0 1262.1 1186.0 1262.6 1191.0 1262.0 1193.0 1262.5 1195.0 1262.6 1196.0 1262.4 1198.0 1262.6 1200.0 1262.2 1201.0 1262.3 1202.0 1262.6 1203.0 1262.5 1204.0 1262.1 1206.0 1262.5 1209.0 1262.4 1210.0 1262.7 1211.0 1262.6 1212.0 1262.2 1214.0 1262.2 1215.0 1261.9 1223.0 1262.4 1226.0 1261.9 1227.0 1262.0 1228.0 1262.3 1230.0 1262.4 1232.0 1262.1 1233.0 1262.2 1234.0 1262.6 1235.0 1262.7 1243.0 1262.3 1244.0 1262.5 1251.0 1262.4 1252.0 1262.6 1254.0 1262.3 1255.0 1262.8 1256.0 1262.6 1257.0 1262.1 1260.0 1262.6 1262.0 1262.2 1265.0 1262.3 1266.0 1261.8 1267.0 1261.8 1268.0 1262.2 1277.0 1262.7 1281.0 1262.4 1282.0 1262.5 1283.0 1262.4 1284.0 1262.1 1287.0 1262.6 1289.0 1262.5 1291.0 1262.1 1294.0 1262.6 1297.0 1262.6 1298.0 1262.1 1299.0 1261.9 1302.0 1262.3 1311.0 1262.5 1315.0 1262.3 1316.0 1262.1 1318.0 1262.6 1323.0 1262.3 1324.0 1262.0 1326.0 1262.4 1329.0 1262.1 1330.0 1262.5 1331.0 1262.6 1332.0 1262.3 1337.0 1262.7 1338.0 1262.2 1339.0 1262.0 1342.0 1262.5 1345.0 1261.6 1346.0 1262.1 1347.0 1262.4 1356.0 1262.4 1361.0 1262.4 1362.0 1262.2 1363.0 1262.3 1364.0 1262.6 1367.0 1262.6 1369.0 1261.7 1370.0 1262.2 1371.0 1262.4 1374.0 1262.2 1375.0 1262.4 1377.0 1262.0 1378.0 1262.5 1379.0 1262.6 1382.0 1262.3 1383.0 1262.6 1387.0 1262.3 1388.0 1262.1 1391.0 1262.7 1393.0 1262.6 1394.0 1262.2 1395.0 1262.2 1396.0 1262.7 1403.0 1262.0 1409.0 1262.5 1412.0 1262.0 1414.0 1262.2 1415.0 1262.1 1417.0 1262.7 1418.0 1262.2 1419.0 1262.2 1421.0 1262.5 1423.0 1262.2 1425.0 1262.6 1430.0 1262.2 1433.0 1262.6 1434.0 1262.1 1435.0 1262.1 1436.0 1262.5 1440.0 1262.2 1446.0 1262.5 1447.0 1262.2 1449.0 1262.8 1454.0 1262.0 1455.0 1262.3 1462.0 1262.7 1463.0 1262.4 1465.0 1262.5 1468.0 1262.3 1470.0 1262.7 1475.0 1262.3 1478.0 1262.5 1481.0 1262.1 1483.0 1262.4 1489.0 1262.4 1490.0 1262.0 1491.0 1262.1 1492.0 1262.7 1494.0 1262.6 1497.0 1263.0 1498.0 1262.4 1499.0 1262.2 1503.0 1262.6 1505.0 1262.2 1508.0 1262.6 1510.0 1262.2 1513.0 1262.6 1515.0 1262.4 1516.0 1262.6 1519.0 1262.0 1528.0 1262.5 1537.0 1262.2 1538.0 1262.6 1539.0 1262.5 1540.0 1261.9 1542.0 1262.3 1543.0 1262.0 1547.0 1262.5 1548.0 1262.3 1550.0 1262.6 1551.0 1262.2 1560.0 1262.3 1563.0 1262.6 1572.0 1262.1 1574.0 1262.3 1575.0 1262.0 1577.0 1262.5 1580.0 1262.1 1587.0 1262.5 1589.0 1262.9 1590.0 1262.8 1591.0 1262.2 1593.0 1262.6 1596.0 1262.1 1599.0 1262.7 1602.0 1262.4 1604.0 1262.9 1612.0 1262.8 1618.0 1262.2 1621.5 1258.1 1623.3 1239.7 1624.4 886.0 1626.6 885.9 1627.6 1220.8 1629.6 899.7 1630.3 547.7 1631.5 548.0 1632.2 900.1 1634.2 1211.2 1635.6 899.9 1635.8 823.5 1638.2 823.9 1638.5 1150.0 1639.5 1244.6 1641.5 1257.1 1644.4 1259.7 1652.0 1262.0 1660.0 1262.4 1660.0 1262.4 1663.0 1262.6 1665.0 1262.2 1668.0 1262.9 1670.0 1262.7 1673.0 1262.8 1675.0 1262.6 1679.0 1262.9 1680.0 1263.3 1685.0 1263.2 1692.6 1261.8 1694.5 1249.7 1696.3 1163.5 1697.8 1163.4 1699.8 1204.9 1702.3 978.2 1703.8 978.1 1705.0 1157.6 1707.0 959.1 1708.6 959.2 1710.5 1210.5 1712.2 1135.7 1713.3 1135.8 1714.8 1230.1 1716.4 1255.1 1719.3 1261.6 1725.0 1263.4 1735.0 1262.8 1735.0 1262.8 1738.0 1263.0 1740.0 1262.3 1742.0 1262.9 1743.0 1262.4 1745.0 1262.9 1748.0 1262.4 1752.0 1262.4 1755.0 1262.8 1758.0 1262.6 1761.0 1262.7 1762.0 1262.9 1763.0 1262.9 1765.0 1262.5 1780.0 1261.6 1785.4 1258.0 1788.0 1237.4 1789.8 1218.7 1791.5 1219.0 1793.0 1211.9 1795.5 1107.5 1796.6 1107.6 1798.5 1139.8 1801.0 1018.6 1802.0 1019.0 1803.8 1139.7 1805.4 1076.5 1807.3 1076.3 1808.6 1180.1 1810.5 1195.9 1812.5 1196.3 1813.0 1228.2 1815.7 1246.0 1821.1 1254.4 1833.6 1257.2 1844.3 1258.4 1848.8 1246.0 1851.0 1222.4 1852.5 1220.6 1854.1 1192.4 1855.9 1156.6 1856.8 1126.4 1858.3 1124.5 1860.4 1085.2 1862.1 1031.2 1863.9 1013.3 1866.6 1001.0 1868.4 983.3 1869.5 971.9 1871.0 962.3 1873.5 945.1 1875.6 915.3 1876.2 800.3 1876.4 530.2 1876.6 -59.8 1879.6 470.1 1882.4 -60.2 1884.4 530.3 1884.6 800.2 1885.5 899.9 1886.3 959.7 1887.1 1102.5 1888.9 1174.2 1891.6 1218.9 1894.3 1238.5 1901.4 1251.0 1910.4 1256.1 1922.9 1257.1 1926.4 1254.6 1935.0 1257.7 1960.0 1260.1 2000.0 1261.9 2030.0 1262.4 2031.0 1262.2 2036.0 1262.8 2038.0 1262.4 2042.0 1262.4 2044.0 1262.0 2046.0 1262.7 2047.0 1262.8 2049.0 1262.3 2054.0 1262.4 2055.0 1262.6 2057.0 1262.4 2058.0 1262.6 2059.0 1262.5 2060.0 1262.2 2065.0 1262.2 2068.0 1262.7 2071.0 1262.6 2073.0 1262.0 2074.0 1262.5 2075.0 1262.6 2076.0 1262.2 2079.0 1263.1 2081.0 1262.5 2084.0 1262.7 2086.0 1262.2 2092.0 1262.7 2094.0 1262.6 2095.0 1262.7 2098.0 1262.2 2101.0 1262.5 2103.0 1262.2 2105.0 1262.7 2107.0 1262.3 2110.0 1262.5 2111.0 1262.3 2113.0 1262.7 2121.0 1262.3 2124.0 1262.8 2130.0 1262.8 2132.0 1262.2 2135.0 1262.8 2137.0 1262.4 2140.0 1262.7 2142.0 1262.5 2143.0 1262.8 2145.0 1262.5 2148.0 1263.1 2150.0 1262.7 2151.0 1262.3 2156.0 1262.5 2158.0 1262.3 2161.0 1263.0 2163.0 1262.7 2164.0 1262.4 2169.0 1262.4 2170.0 1262.8 2171.0 1262.8 2172.0 1262.4 2174.0 1262.3 2180.0 1262.9 2183.0 1262.1 2185.0 1262.7 2188.0 1263.0 2190.0 1262.1 2191.0 1262.2 2193.0 1262.9 2196.0 1262.9 2198.0 1262.6 2199.0 1262.8 2202.0 1262.3 2209.0 1262.8 2210.0 1262.3 2211.0 1262.2 2212.0 1262.6 2214.0 1262.6 2215.0 1262.3 2220.0 1262.6 2222.0 1262.3 2225.0 1262.3 2227.0 1262.6 2230.0 1262.4 2232.0 1262.6 2234.0 1262.3 2235.0 1262.4 2236.0 1262.8 2241.0 1262.3 2242.0 1262.6 2243.0 1262.7 2245.0 1262.2 2246.0 1262.1 2249.0 1263.0 2250.0 1262.6 2251.0 1262.5 2254.0 1262.8 2257.0 1262.5 2260.0 1262.7 2262.0 1262.4 2265.0 1262.7 2267.0 1262.5 2270.0 1262.6 2279.0 1262.3 2284.0 1262.7 2286.0 1262.4 2289.0 1262.7 2291.0 1262.4 2292.0 1262.7 2298.0 1262.5 2300.0 1262.0 2302.0 1262.5 2303.0 1262.3 2307.0 1262.7 2313.0 1262.7 2315.0 1262.4 2319.0 1262.9 2321.0 1262.6 2323.0 1262.7 2324.0 1262.4 2327.0 1262.6 2329.0 1262.3 2332.0 1262.5 2334.0 1262.0 2336.0 1262.6 2340.0 1262.6 2342.0 1262.3 2345.0 1262.5 2348.0 1262.4 2350.0 1262.8 2351.0 1262.4 2353.0 1262.5 2354.0 1262.8 2355.0 1262.9 2357.0 1262.4 2362.0 1262.6 2364.0 1262.2 2366.0 1262.6 2369.0 1263.1 2372.0 1262.5 2376.0 1262.7 2379.0 1262.7 2380.0 1262.9 2385.0 1262.4 2386.0 1262.6 2387.0 1262.5 2388.0 1262.2 2390.0 1262.8 2391.0 1262.6 2394.0 1262.9 2395.0 1262.8 2396.0 1262.4 2398.0 1262.9 2398.5 1262.8"/>
<path stroke="#7d0005" d="M144.7 1565.6L146.7 1565.5 150.7 1566.0 155.7 1565.6 158.7 1566.1 162.7 1565.5 163.7 1565.5 165.7 1566.1 168.7 1565.3 170.7 1565.7 176.7 1565.6 178.7 1565.8 181.7 1565.6 184.7 1565.9 185.7 1565.6 186.7 1565.4 187.7 1565.6 189.7 1565.5 191.7 1565.6 192.7 1565.4 197.7 1565.6 203.7 1565.4 205.7 1565.7 206.7 1565.5 208.7 1566.0 210.7 1565.7 211.7 1565.3 213.7 1565.7 215.7 1565.5 217.7 1565.7 219.7 1565.2 221.7 1565.6 224.7 1565.9 225.7 1565.6 226.7 1565.5 227.7 1565.8 229.7 1565.4 232.7 1565.4 234.7 1566.0 235.7 1565.8 237.7 1566.2 239.7 1565.8 242.7 1565.8 243.7 1565.5 246.7 1565.9 248.7 1565.5 253.7 1565.7 261.7 1565.4 262.7 1565.7 263.7 1565.6 264.7 1565.3 267.7 1565.3 269.7 1565.8 273.7 1565.3 275.7 1565.6 278.7 1565.3 280.7 1565.7 282.7 1565.3 288.7 1565.6 290.7 1565.8 294.7 1565.1 296.7 1565.5 305.7 1565.4 310.7 1565.5 312.7 1566.0 315.7 1565.2 317.7 1565.9 320.7 1565.3 322.7 1565.7 328.7 1565.3 331.7 1565.7 333.7 1565.4 336.7 1566.0 337.7 1565.5 338.7 1565.3 339.7 1565.5 344.7 1565.2 347.7 1565.6 349.7 1565.4 352.7 1565.6 359.7 1565.7 360.7 1565.9 363.7 1565.5 365.7 1565.6 367.7 1565.3 375.8 1565.3 376.8 1565.1 385.0 1565.2 386.0 1564.4 386.8 1563.0 387.2 1561.6 387.5 1561.3 387.8 1561.7 388.5 1563.9 389.0 1564.7 391.0 1565.7 399.2 1565.2 407.7 1565.2 408.7 1565.4 413.7 1565.1 414.7 1565.6 415.7 1565.8 418.7 1565.2 420.7 1565.6 421.7 1565.6 422.7 1565.0 423.7 1564.9 424.7 1565.2 428.7 1565.4 432.7 1565.3 434.7 1565.8 435.7 1565.9 437.7 1565.2 438.7 1565.1 439.7 1565.4 440.7 1566.0 441.7 1565.4 442.7 1565.1 448.7 1565.5 456.8 1565.6 463.8 1564.5 465.5 1562.8 466.0 1561.6 466.2 1560.3 466.5 1557.6 466.7 1552.9 466.8 1551.2 467.0 1537.0 467.2 1508.6 467.5 1457.6 467.7 1395.2 467.8 1376.3 468.0 1263.4 468.2 1128.5 468.5 994.9 468.7 910.4 468.8 894.6 469.0 857.1 469.2 894.6 469.5 995.0 469.7 1100.9 469.8 1128.7 470.0 1263.6 470.2 1376.6 470.5 1458.0 470.7 1501.0 470.8 1509.2 471.0 1537.7 471.2 1551.8 471.5 1558.2 471.7 1560.5 472.0 1562.1 472.5 1562.9 475.8 1564.9 484.0 1565.4 492.7 1565.1 494.7 1565.2 496.7 1565.9 497.7 1565.4 498.7 1565.3 500.7 1565.5 503.7 1565.3 504.7 1565.5 505.7 1565.0 506.7 1564.8 508.7 1565.3 509.7 1565.3 510.7 1564.8 511.7 1564.7 514.7 1565.4 517.7 1565.0 523.7 1565.3 527.7 1565.1 530.7 1565.5 538.8 1565.1 547.0 1565.1 550.8 1564.8 551.5 1564.0 552.2 1562.3 552.5 1562.1 552.8 1562.3 553.8 1564.5 562.0 1565.1 570.2 1565.4 572.7 1564.8 573.7 1564.8 574.7 1565.2 575.7 1565.3 576.7 1565.1 578.7 1565.2 579.7 1564.9 581.7 1565.5 586.7 1565.1 592.7 1564.8 594.7 1565.3 598.7 1565.1 600.7 1564.5 602.7 1565.2 608.7 1564.8 610.7 1565.2 614.7 1564.9 618.7 1565.2 621.7 1564.8 622.7 1565.2 623.7 1565.1 624.7 1564.8 626.7 1565.3 630.7 1564.9 634.7 1565.2 635.7 1565.0 638.7 1565.5 642.7 1564.7 650.7 1564.8 651.7 1565.1 653.7 1564.4 655.7 1565.0 656.7 1565.5 661.7 1565.2 663.7 1565.3 667.7 1564.7 669.7 1564.9 677.7 1564.9 678.7 1565.1 680.7 1564.6 683.7 1565.4 685.7 1565.0 691.7 1565.2 693.7 1564.6 696.7 1564.9 698.7 1564.6 702.7 1564.5 704.7 1565.0 713.7 1564.8 722.7 1564.9 725.7 1564.8 727.7 1564.9 730.7 1564.7 731.7 1564.3 733.7 1564.3 734.7 1564.8 738.7 1565.2 744.7 1564.5 746.7 1565.0 747.7 1564.8 754.7 1565.0 760.7 1564.8 761.7 1565.1 762.7 1565.1 763.7 1564.8 765.7 1565.1 770.7 1564.9 771.7 1564.6 774.7 1565.1 776.7 1564.6 781.7 1564.9 782.7 1564.6 783.7 1564.8 784.7 1565.2 787.7 1564.5 789.7 1565.2 797.7 1564.8 802.7 1565.0 806.7 1564.7 809.7 1565.1 812.7 1564.7 815.7 1565.0 818.7 1564.8 819.7 1564.5 824.7 1564.8 825.7 1564.5 826.7 1564.5 827.7 1565.0 831.7 1564.7 832.7 1564.4 835.7 1565.0 837.7 1564.4 840.7 1564.9 842.7 1564.6 843.7 1564.9 845.7 1564.7 847.7 1565.0 850.7 1564.9 851.7 1565.2 853.7 1564.9 854.7 1565.0 856.7 1564.4 860.7 1564.9 863.7 1564.8 864.7 1564.9 866.7 1564.5 867.7 1564.7 869.7 1564.4 871.7 1564.7 875.7 1564.7 877.7 1565.0 878.7 1564.6 880.7 1564.5 882.7 1564.8 883.7 1564.6 885.7 1565.0 888.7 1564.7 891.7 1565.0 896.7 1564.7 898.7 1564.3 901.7 1565.0 907.7 1564.5 909.7 1564.7 911.7 1564.5 912.7 1564.7 914.7 1564.5 917.7 1564.7 919.7 1564.6 925.7 1564.8 926.7 1564.4 928.7 1564.2 930.7 1564.8 933.7 1565.0 936.7 1564.8 938.7 1564.5 940.7 1564.7 943.7 1564.3 947.7 1564.6 949.7 1563.9 950.7 1564.4 957.7 1564.6 958.7 1564.4 960.7 1564.6 963.7 1564.3 966.7 1564.8 967.7 1564.6 968.7 1564.2 971.7 1564.1 973.7 1564.9 975.7 1564.5 981.7 1564.1 983.7 1564.6 984.7 1564.6 986.7 1564.1 995.7 1564.8 998.7 1564.8 1000.7 1564.2 1003.7 1564.7 1007.7 1564.3 1008.7 1564.0 1010.7 1564.1 1011.7 1564.5 1016.7 1564.3 1018.7 1564.1 1022.7 1564.7 1027.7 1564.0 1029.7 1564.6 1030.7 1564.7 1032.7 1564.1 1036.7 1564.1 1038.7 1563.7 1039.7 1563.7 1041.7 1564.2 1042.7 1564.1 1043.7 1563.8 1045.7 1563.8 1046.7 1563.4 1047.7 1563.6 1048.7 1564.3 1055.7 1563.8 1063.7 1563.9 1064.7 1564.1 1065.7 1563.6 1066.7 1563.4 1067.7 1563.6 1072.7 1562.8 1073.7 1563.3 1074.7 1563.4 1076.7 1563.1 1078.7 1563.2 1080.7 1562.8 1086.7 1563.1 1088.7 1562.5 1090.7 1562.8 1095.7 1562.4 1096.7 1562.5 1098.7 1562.0 1101.7 1562.3 1102.7 1562.0 1104.7 1562.4 1106.7 1561.7 1115.7 1561.2 1117.7 1561.0 1120.7 1561.3 1121.7 1560.8 1122.7 1560.6 1123.7 1560.9 1126.7 1560.5 1128.7 1560.8 1133.7 1559.6 1134.7 1559.1 1135.7 1559.1 1136.7 1559.4 1138.7 1558.8 1144.7 1558.7 1149.7 1557.6 1152.7 1557.6 1153.7 1557.2 1154.7 1557.1 1155.7 1557.6 1157.7 1556.9 1158.7 1556.8 1160.7 1557.4 1162.7 1557.4 1163.7 1556.9 1165.7 1557.1 1166.7 1557.7 1167.7 1557.7 1169.7 1557.1 1170.7 1557.1 1173.7 1558.4 1176.7 1558.6 1182.7 1559.2 1184.7 1560.0 1186.7 1560.0 1189.7 1561.2 1194.7 1561.7 1197.7 1562.2 1198.7 1561.9 1202.7 1562.8 1205.7 1562.4 1207.7 1562.3 1208.7 1562.0 1211.7 1562.6 1220.7 1560.4 1223.7 1559.5 1225.7 1559.3 1226.7 1558.9 1227.7 1558.2 1229.7 1557.6 1230.7 1557.5 1231.7 1557.1 1232.7 1556.3 1237.7 1555.0 1240.7 1553.2 1242.7 1552.3 1246.7 1549.8 1247.7 1549.6 1248.7 1549.6 1249.7 1548.9 1250.7 1548.6 1256.7 1549.3 1261.7 1551.2 1263.7 1551.9 1264.7 1552.5 1266.7 1552.1 1267.7 1552.4 1273.7 1550.7 1274.7 1550.3 1275.7 1549.4 1282.7 1546.1 1286.7 1543.6 1288.7 1542.9 1290.7 1541.2 1293.7 1537.7 1294.7 1536.9 1298.7 1532.4 1302.7 1528.2 1303.7 1527.3 1304.7 1526.7 1307.7 1526.3 1311.7 1527.4 1312.7 1527.9 1315.7 1531.0 1318.7 1533.5 1326.7 1542.2 1327.7 1542.8 1331.7 1544.3 1333.7 1544.3 1335.7 1543.3 1336.7 1542.6 1338.7 1540.5 1339.7 1539.2 1341.7 1536.9 1344.7 1532.4 1346.7 1530.0 1347.7 1528.7 1349.7 1527.1 1350.7 1526.1 1351.7 1525.4 1353.7 1524.7 1354.7 1524.8 1355.7 1525.1 1358.7 1526.9 1359.7 1527.8 1360.7 1529.1 1361.7 1529.7 1362.7 1530.8 1365.7 1535.4 1368.7 1539.6 1370.7 1542.7 1373.7 1546.7 1376.7 1551.0 1380.7 1554.3 1382.7 1555.4 1383.7 1555.5 1386.7 1554.8 1387.7 1554.8 1391.7 1553.4 1394.7 1552.2 1398.7 1551.4 1400.7 1551.6 1402.7 1550.9 1405.7 1551.1 1407.7 1550.4 1408.7 1550.2 1410.7 1550.8 1416.7 1550.8 1418.7 1550.5 1421.7 1550.5 1424.7 1551.1 1426.7 1551.1 1429.7 1552.1 1430.7 1551.6 1431.7 1551.9 1435.7 1554.1 1437.7 1554.9 1438.7 1555.8 1445.7 1558.9 1447.7 1559.3 1449.7 1559.2 1450.7 1558.9 1451.7 1558.2 1453.7 1557.4 1455.7 1556.2 1456.7 1555.8 1461.7 1552.0 1467.7 1549.5 1469.7 1548.5 1471.7 1548.6 1473.7 1549.1 1475.7 1550.2 1481.7 1554.9 1482.7 1555.9 1483.7 1557.1 1485.7 1558.7 1487.7 1560.6 1488.7 1561.4 1491.7 1562.4 1493.7 1562.7 1494.7 1563.2 1496.7 1563.1 1497.7 1562.8 1498.7 1562.8 1499.7 1563.3 1504.7 1563.5 1509.7 1563.8 1511.7 1563.7 1512.7 1563.8 1515.7 1563.6 1517.7 1563.8 1520.7 1563.9 1521.7 1564.3 1522.7 1564.5 1526.7 1563.5 1528.7 1563.8 1531.7 1563.5 1533.7 1564.1 1535.7 1563.9 1536.7 1564.1 1537.7 1564.5 1538.7 1564.6 1539.7 1564.1 1546.7 1563.8 1549.7 1564.2 1552.7 1563.6 1561.7 1564.2 1563.7 1564.0 1568.7 1564.2 1569.7 1563.8 1570.7 1563.7 1571.7 1564.2 1573.7 1563.6 1576.7 1564.2 1578.7 1564.0 1579.7 1564.4 1582.7 1563.8 1584.7 1564.0 1586.7 1564.0 1588.7 1564.4 1592.7 1563.9 1595.7 1564.2 1597.7 1563.8 1601.7 1564.2 1605.7 1563.9 1606.7 1563.6 1607.7 1563.8 1608.7 1564.3 1611.7 1563.7 1614.7 1563.8 1616.7 1564.4 1619.7 1563.7 1621.7 1564.5 1623.7 1564.1 1625.7 1563.5 1626.7 1563.6 1627.7 1564.1 1629.7 1563.9 1632.7 1563.9 1634.7 1564.3 1642.7 1564.0 1643.7 1563.7 1645.7 1564.3 1647.7 1564.0 1654.7 1564.5 1656.7 1563.9 1658.7 1563.8 1661.7 1563.8 1662.7 1564.1 1664.7 1563.7 1669.7 1564.1 1671.7 1564.0 1673.7 1564.2 1674.7 1564.0 1675.7 1563.5 1677.7 1563.9 1682.7 1563.6 1689.7 1563.9 1692.7 1563.4 1694.7 1563.7 1696.7 1563.4 1701.7 1563.7 1704.7 1563.8 1706.7 1563.3 1707.7 1563.5 1709.7 1563.2 1712.7 1563.3 1715.7 1562.5 1717.7 1563.3 1723.7 1562.8 1728.7 1563.0 1731.7 1562.4 1733.7 1562.6 1735.7 1562.4 1736.7 1562.5 1738.7 1562.0 1741.7 1562.4 1743.7 1562.1 1747.7 1562.2 1749.7 1562.5 1751.7 1562.0 1754.7 1561.9 1755.7 1561.6 1757.7 1561.7 1758.7 1562.0 1762.5 1562.3 1765.5 1561.7 1770.5 1561.6 1772.0 1560.8 1780.0 1558.8 1785.0 1556.4 1789.5 1552.9 1791.0 1550.7 1793.5 1545.1 1795.5 1539.5 1796.0 1537.9 1796.5 1536.0 1797.0 1533.8 1798.5 1526.3 1801.0 1512.5 1802.5 1503.5 1803.0 1500.9 1803.5 1499.1 1804.0 1498.0 1804.5 1497.3 1805.0 1496.8 1805.5 1496.7 1806.5 1497.4 1808.0 1499.2 1808.5 1500.7 1809.0 1503.1 1809.5 1506.1 1810.5 1512.8 1811.0 1515.8 1812.0 1521.2 1813.5 1529.5 1814.0 1531.8 1814.5 1533.7 1817.5 1543.1 1818.5 1545.7 1819.5 1547.8 1821.0 1549.8 1823.0 1552.3 1824.5 1553.1 1826.5 1555.3 1835.0 1559.0 1841.0 1560.2 1842.5 1559.9 1847.0 1560.9 1849.0 1560.7 1850.5 1561.1 1852.0 1561.0 1853.5 1561.6 1855.5 1561.1 1860.0 1561.3 1861.5 1561.9 1863.5 1561.2 1868.0 1561.4 1869.5 1560.9 1873.0 1561.1 1881.0 1559.5 1883.5 1559.4 1884.0 1559.1 1885.0 1557.7 1887.0 1553.9 1887.5 1551.5 1888.0 1548.5 1888.5 1546.7 1889.6 1546.7 1890.0 1547.8 1890.5 1550.4 1891.0 1552.0 1892.0 1551.6 1893.0 1550.6 1894.0 1548.8 1895.0 1546.2 1896.0 1543.0 1896.5 1541.1 1897.0 1538.3 1897.5 1534.6 1898.0 1530.2 1900.0 1510.7 1901.0 1501.6 1901.5 1496.8 1903.0 1480.9 1903.5 1475.9 1904.0 1471.2 1905.5 1457.7 1906.0 1452.7 1906.5 1447.1 1907.0 1440.7 1907.5 1431.5 1908.0 1420.4 1908.5 1411.1 1908.6 1409.8 1909.0 1405.3 1909.2 1404.4 1910.6 1404.5 1911.0 1405.6 1911.5 1408.3 1912.0 1409.9 1912.5 1403.7 1913.0 1391.6 1913.5 1383.5 1913.6 1383.2 1914.6 1383.3 1915.0 1387.1 1915.5 1397.7 1915.9 1405.6 1916.5 1413.7 1917.0 1419.8 1918.5 1437.2 1919.5 1449.9 1922.0 1482.8 1922.5 1489.1 1924.0 1509.2 1924.5 1515.7 1925.0 1521.6 1925.5 1526.5 1926.0 1530.3 1927.0 1536.4 1928.0 1542.0 1928.5 1544.4 1929.0 1546.5 1929.5 1548.2 1930.0 1549.7 1931.0 1551.6 1932.0 1553.1 1933.5 1554.5 1935.0 1556.4 1938.5 1558.6 1945.0 1560.3 1946.5 1560.3 1951.0 1561.7 1954.5 1562.1 1956.0 1562.6 1957.5 1562.2 1959.0 1562.7 1967.5 1563.2 1969.0 1563.3 1970.5 1563.9 1979.0 1564.0 1981.5 1563.8 1988.0 1564.9 1993.0 1564.3 1996.0 1564.9 1997.0 1564.5 1998.0 1564.4 1999.0 1564.6 2004.0 1564.4 2006.0 1564.2 2007.0 1564.4 2009.0 1564.3 2010.0 1564.7 2019.0 1564.6 2028.0 1564.4 2031.0 1564.5 2033.0 1564.9 2035.0 1564.5 2041.0 1565.0 2044.0 1564.4 2047.0 1564.8 2052.0 1564.6 2054.0 1565.0 2058.0 1564.7 2060.0 1564.2 2064.0 1564.7 2065.0 1564.6 2066.0 1564.1 2067.0 1564.2 2069.0 1564.8 2071.0 1564.8 2073.0 1564.5 2078.0 1564.7 2080.0 1564.9 2087.0 1564.3 2089.0 1565.0 2091.0 1564.9 2092.0 1564.7 2094.0 1564.8 2095.0 1564.5 2099.0 1564.8 2104.0 1564.3 2113.0 1564.6 2121.0 1564.7 2122.0 1564.8 2127.0 1564.4 2132.0 1565.0 2133.0 1564.7 2134.0 1564.7 2135.0 1565.0 2137.0 1564.6 2140.0 1564.6 2143.0 1565.0 2148.0 1564.4 2150.0 1564.7 2158.0 1564.7 2161.0 1564.9 2169.0 1564.5 2170.0 1564.8 2174.0 1564.9 2175.0 1564.6 2177.0 1564.7 2179.0 1564.6 2183.0 1564.9 2185.0 1564.8 2188.0 1564.7 2190.0 1564.8 2196.0 1564.8 2198.0 1564.4 2199.0 1564.4 2201.0 1564.8 2204.0 1564.3 2213.0 1565.1 2215.0 1565.3 2217.0 1564.5 2220.0 1565.0 2222.0 1564.5 2227.0 1565.1 2228.0 1565.1 2229.0 1564.6 2230.0 1564.4 2233.0 1564.8 2238.0 1565.0 2239.0 1565.2 2241.0 1564.8 2246.0 1564.9 2247.0 1564.6 2249.0 1564.9 2252.0 1564.5 2253.0 1564.9 2254.0 1565.1 2257.0 1565.1 2265.0 1564.9 2266.0 1565.2 2268.0 1564.7 2269.0 1565.1 2270.0 1565.1 2271.0 1564.8 2273.0 1565.0 2276.0 1565.0 2278.0 1565.1 2281.0 1564.7 2284.0 1565.0 2285.0 1564.5 2286.0 1564.5 2287.0 1565.1 2289.0 1565.0 2290.0 1564.6 2293.0 1565.0 2295.0 1564.6 2302.0 1565.1 2305.0 1565.0 2310.0 1565.0 2311.0 1565.2 2313.0 1564.6 2315.0 1564.9 2321.0 1565.0 2322.0 1565.4 2325.0 1565.0 2327.0 1565.3 2329.0 1565.0 2330.0 1564.6 2333.0 1565.1 2335.0 1564.8 2337.0 1565.0 2340.0 1565.0 2342.0 1564.5 2348.0 1565.3 2351.0 1564.8 2353.0 1565.1 2354.0 1565.0 2356.0 1565.4 2359.0 1564.5 2368.0 1564.9 2377.0 1564.9 2378.0 1564.6 2383.0 1565.0 2385.0 1564.7 2389.0 1565.4 2390.0 1565.4 2392.0 1565.0 2393.0 1564.9 2394.0 1565.2 2398.5 1565.1"/>
</g>
</svg></body></html>
